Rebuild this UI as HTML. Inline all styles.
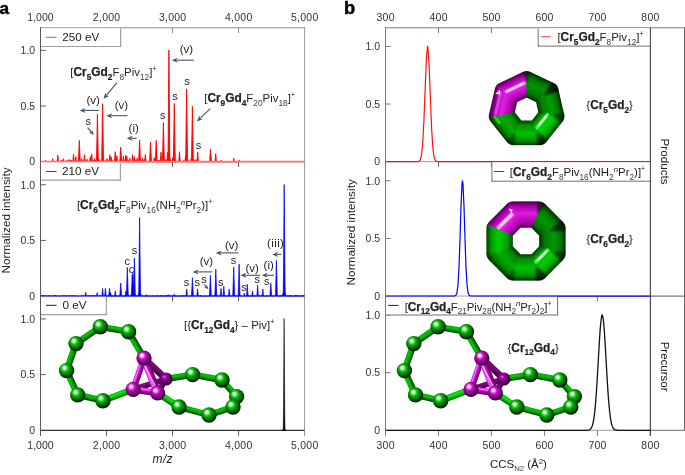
<!DOCTYPE html>
<html><head><meta charset="utf-8"><title>Figure</title>
<style>
html,body{margin:0;padding:0;background:#fff;}
body{width:685px;height:475px;overflow:hidden;font-family:"Liberation Sans", sans-serif;}
svg{display:block;will-change:transform;opacity:0.999;}
</style></head><body>
<svg width="685" height="475" viewBox="0 0 685 475" font-family='"Liberation Sans", sans-serif'>
<defs>
<radialGradient id="sg" cx="0.45" cy="0.42" r="0.62" fx="0.34" fy="0.30">
<stop offset="0" stop-color="#ffffff"/><stop offset="0.10" stop-color="#f0fff0"/><stop offset="0.20" stop-color="#98f098"/><stop offset="0.32" stop-color="#28c828"/><stop offset="0.48" stop-color="#009e00"/><stop offset="0.68" stop-color="#006a00"/><stop offset="0.86" stop-color="#002c00"/><stop offset="1" stop-color="#000a00"/>
</radialGradient>
<radialGradient id="sm" cx="0.45" cy="0.42" r="0.62" fx="0.34" fy="0.30">
<stop offset="0" stop-color="#ffffff"/><stop offset="0.10" stop-color="#fff0ff"/><stop offset="0.20" stop-color="#f8a0f8"/><stop offset="0.32" stop-color="#d828d8"/><stop offset="0.48" stop-color="#ac00ac"/><stop offset="0.68" stop-color="#7c007c"/><stop offset="0.86" stop-color="#440044"/><stop offset="1" stop-color="#180018"/>
</radialGradient>
<linearGradient id="bg" x1="0" y1="0" x2="0" y2="1">
<stop offset="0" stop-color="#00a000"/><stop offset="0.3" stop-color="#00c800"/><stop offset="0.55" stop-color="#00a000"/><stop offset="0.8" stop-color="#006400"/><stop offset="1" stop-color="#003400"/>
</linearGradient>
<linearGradient id="bm" x1="0" y1="0" x2="0" y2="1">
<stop offset="0" stop-color="#c010c0"/><stop offset="0.25" stop-color="#ff70ff"/><stop offset="0.5" stop-color="#c800c8"/><stop offset="0.8" stop-color="#880088"/><stop offset="1" stop-color="#480048"/>
</linearGradient>
<linearGradient id="bd" x1="0" y1="0" x2="0" y2="1">
<stop offset="0" stop-color="#6c006c"/><stop offset="0.3" stop-color="#8a008a"/><stop offset="0.6" stop-color="#5c005c"/><stop offset="1" stop-color="#2c002c"/>
</linearGradient>
<linearGradient id="bl" x1="0" y1="0" x2="0" y2="1">
<stop offset="0" stop-color="#00b400"/><stop offset="0.3" stop-color="#10e810"/><stop offset="0.6" stop-color="#00c000"/><stop offset="0.85" stop-color="#008000"/><stop offset="1" stop-color="#004800"/>
</linearGradient>
<radialGradient id="sd" cx="0.45" cy="0.42" r="0.62" fx="0.36" fy="0.32">
<stop offset="0" stop-color="#e080e0"/><stop offset="0.2" stop-color="#a810a8"/><stop offset="0.5" stop-color="#7c007c"/><stop offset="0.8" stop-color="#480048"/><stop offset="1" stop-color="#200020"/>
</radialGradient>
<filter id="blur1" x="-30%" y="-30%" width="160%" height="160%"><feGaussianBlur stdDeviation="1.1"/></filter>
<filter id="blur05" x="-30%" y="-30%" width="160%" height="160%"><feGaussianBlur stdDeviation="0.6"/></filter>
</defs>
<rect x="0" y="0" width="685" height="475" fill="#fff"/>
<text x="-0.60" y="14.00" font-size="17.2" text-anchor="start" font-weight="bold" font-style="normal" fill="#000" stroke="#000" stroke-width="0.45">a</text>
<text x="344.00" y="13.80" font-size="18.3" text-anchor="start" font-weight="bold" font-style="normal" fill="#000" stroke="#000" stroke-width="0.45">b</text>
<g transform="translate(0,0)">
<rect x="0" y="-3.20" width="26.96" height="6.40" fill="url(#bg)" transform="translate(166.00,379.00) rotate(-9.39)"/>
<rect x="0" y="-2.80" width="34.38" height="5.60" fill="url(#bd)" transform="translate(133.20,389.30) rotate(-17.43)"/>
<rect x="0" y="-3.30" width="30.28" height="6.60" fill="url(#bd)" transform="translate(144.00,358.20) rotate(43.39)"/>
<rect x="0" y="-2.80" width="16.33" height="5.60" fill="url(#bd)" transform="translate(157.60,393.00) rotate(-59.04)"/>
<circle cx="166.00" cy="379.00" r="6.6" fill="url(#sd)"/>
<rect x="0" y="-3.20" width="30.65" height="6.40" fill="url(#bg)" transform="translate(144.00,358.20) rotate(-120.16)"/>
<rect x="0" y="-3.20" width="28.72" height="6.40" fill="url(#bg)" transform="translate(100.30,326.80) rotate(9.82)"/>
<rect x="0" y="-3.20" width="29.54" height="6.40" fill="url(#bg)" transform="translate(76.00,343.60) rotate(-34.66)"/>
<rect x="0" y="-3.20" width="28.59" height="6.40" fill="url(#bg)" transform="translate(66.60,370.60) rotate(-70.80)"/>
<rect x="0" y="-3.20" width="26.72" height="6.40" fill="url(#bg)" transform="translate(77.70,394.90) rotate(-114.55)"/>
<rect x="0" y="-3.20" width="25.86" height="6.40" fill="url(#bg)" transform="translate(77.70,394.90) rotate(12.96)"/>
<rect x="0" y="-3.20" width="32.37" height="6.40" fill="url(#bl)" transform="translate(102.90,400.70) rotate(-20.62)"/>
<rect x="0" y="-3.20" width="29.89" height="6.40" fill="url(#bg)" transform="translate(192.60,374.60) rotate(10.41)"/>
<rect x="0" y="-3.20" width="22.11" height="6.40" fill="url(#bg)" transform="translate(222.00,380.00) rotate(48.67)"/>
<rect x="0" y="-3.20" width="11.01" height="6.40" fill="url(#bg)" transform="translate(233.00,407.00) rotate(-70.91)"/>
<rect x="0" y="-3.20" width="25.30" height="6.40" fill="url(#bg)" transform="translate(209.00,415.00) rotate(-18.43)"/>
<rect x="0" y="-3.20" width="31.05" height="6.40" fill="url(#bg)" transform="translate(179.00,407.00) rotate(14.93)"/>
<rect x="0" y="-3.20" width="25.57" height="6.40" fill="url(#bl)" transform="translate(157.60,393.00) rotate(33.19)"/>
<rect x="0" y="-3.40" width="24.68" height="6.80" fill="url(#bm)" transform="translate(133.20,389.30) rotate(8.62)"/>
<rect x="0" y="-3.10" width="32.92" height="6.20" fill="url(#bm)" transform="translate(133.20,389.30) rotate(-70.85)"/>
<rect x="0" y="-3.80" width="37.36" height="7.60" fill="url(#bm)" transform="translate(157.60,393.00) rotate(-111.35)"/>
<line x1="144.20" y1="364.20" x2="155.20" y2="386.00" stroke="#fff" stroke-opacity="0.75" stroke-width="1.1" filter="url(#blur05)"/>
<circle cx="192.60" cy="374.60" r="7.7" fill="url(#sg)"/>
<circle cx="222.00" cy="380.00" r="7.7" fill="url(#sg)"/>
<circle cx="236.60" cy="396.60" r="7.7" fill="url(#sg)"/>
<circle cx="233.00" cy="407.00" r="7.7" fill="url(#sg)"/>
<circle cx="209.00" cy="415.00" r="7.7" fill="url(#sg)"/>
<circle cx="179.00" cy="407.00" r="7.7" fill="url(#sg)"/>
<circle cx="100.30" cy="326.80" r="7.7" fill="url(#sg)"/>
<circle cx="128.60" cy="331.70" r="7.7" fill="url(#sg)"/>
<circle cx="76.00" cy="343.60" r="7.7" fill="url(#sg)"/>
<circle cx="66.60" cy="370.60" r="7.7" fill="url(#sg)"/>
<circle cx="77.70" cy="394.90" r="7.7" fill="url(#sg)"/>
<circle cx="102.90" cy="400.70" r="7.7" fill="url(#sg)"/>
<circle cx="144.00" cy="358.20" r="7.6" fill="url(#sm)"/>
<circle cx="133.20" cy="389.30" r="7.6" fill="url(#sm)"/>
<circle cx="157.60" cy="393.00" r="7.6" fill="url(#sm)"/>
</g>
<g transform="translate(337.8,0)">
<rect x="0" y="-3.20" width="26.96" height="6.40" fill="url(#bg)" transform="translate(166.00,379.00) rotate(-9.39)"/>
<rect x="0" y="-2.80" width="34.38" height="5.60" fill="url(#bd)" transform="translate(133.20,389.30) rotate(-17.43)"/>
<rect x="0" y="-3.30" width="30.28" height="6.60" fill="url(#bd)" transform="translate(144.00,358.20) rotate(43.39)"/>
<rect x="0" y="-2.80" width="16.33" height="5.60" fill="url(#bd)" transform="translate(157.60,393.00) rotate(-59.04)"/>
<circle cx="166.00" cy="379.00" r="6.6" fill="url(#sd)"/>
<rect x="0" y="-3.20" width="30.65" height="6.40" fill="url(#bg)" transform="translate(144.00,358.20) rotate(-120.16)"/>
<rect x="0" y="-3.20" width="28.72" height="6.40" fill="url(#bg)" transform="translate(100.30,326.80) rotate(9.82)"/>
<rect x="0" y="-3.20" width="29.54" height="6.40" fill="url(#bg)" transform="translate(76.00,343.60) rotate(-34.66)"/>
<rect x="0" y="-3.20" width="28.59" height="6.40" fill="url(#bg)" transform="translate(66.60,370.60) rotate(-70.80)"/>
<rect x="0" y="-3.20" width="26.72" height="6.40" fill="url(#bg)" transform="translate(77.70,394.90) rotate(-114.55)"/>
<rect x="0" y="-3.20" width="25.86" height="6.40" fill="url(#bg)" transform="translate(77.70,394.90) rotate(12.96)"/>
<rect x="0" y="-3.20" width="32.37" height="6.40" fill="url(#bl)" transform="translate(102.90,400.70) rotate(-20.62)"/>
<rect x="0" y="-3.20" width="29.89" height="6.40" fill="url(#bg)" transform="translate(192.60,374.60) rotate(10.41)"/>
<rect x="0" y="-3.20" width="22.11" height="6.40" fill="url(#bg)" transform="translate(222.00,380.00) rotate(48.67)"/>
<rect x="0" y="-3.20" width="11.01" height="6.40" fill="url(#bg)" transform="translate(233.00,407.00) rotate(-70.91)"/>
<rect x="0" y="-3.20" width="25.30" height="6.40" fill="url(#bg)" transform="translate(209.00,415.00) rotate(-18.43)"/>
<rect x="0" y="-3.20" width="31.05" height="6.40" fill="url(#bg)" transform="translate(179.00,407.00) rotate(14.93)"/>
<rect x="0" y="-3.20" width="25.57" height="6.40" fill="url(#bl)" transform="translate(157.60,393.00) rotate(33.19)"/>
<rect x="0" y="-3.40" width="24.68" height="6.80" fill="url(#bm)" transform="translate(133.20,389.30) rotate(8.62)"/>
<rect x="0" y="-3.10" width="32.92" height="6.20" fill="url(#bm)" transform="translate(133.20,389.30) rotate(-70.85)"/>
<rect x="0" y="-3.80" width="37.36" height="7.60" fill="url(#bm)" transform="translate(157.60,393.00) rotate(-111.35)"/>
<line x1="144.20" y1="364.20" x2="155.20" y2="386.00" stroke="#fff" stroke-opacity="0.75" stroke-width="1.1" filter="url(#blur05)"/>
<circle cx="192.60" cy="374.60" r="7.7" fill="url(#sg)"/>
<circle cx="222.00" cy="380.00" r="7.7" fill="url(#sg)"/>
<circle cx="236.60" cy="396.60" r="7.7" fill="url(#sg)"/>
<circle cx="233.00" cy="407.00" r="7.7" fill="url(#sg)"/>
<circle cx="209.00" cy="415.00" r="7.7" fill="url(#sg)"/>
<circle cx="179.00" cy="407.00" r="7.7" fill="url(#sg)"/>
<circle cx="100.30" cy="326.80" r="7.7" fill="url(#sg)"/>
<circle cx="128.60" cy="331.70" r="7.7" fill="url(#sg)"/>
<circle cx="76.00" cy="343.60" r="7.7" fill="url(#sg)"/>
<circle cx="66.60" cy="370.60" r="7.7" fill="url(#sg)"/>
<circle cx="77.70" cy="394.90" r="7.7" fill="url(#sg)"/>
<circle cx="102.90" cy="400.70" r="7.7" fill="url(#sg)"/>
<circle cx="144.00" cy="358.20" r="7.6" fill="url(#sm)"/>
<circle cx="133.20" cy="389.30" r="7.6" fill="url(#sm)"/>
<circle cx="157.60" cy="393.00" r="7.6" fill="url(#sm)"/>
</g>
<g>
<mask id="mkh"><rect x="0" y="0" width="685" height="475" fill="#000"/><polygon points="526.60,79.50 503.07,90.83 497.25,116.30 513.54,136.72 539.66,136.72 555.95,116.30 550.13,90.83" fill="#fff" stroke="#fff" stroke-width="17.12" stroke-linejoin="round"/><polygon points="526.60,98.20 517.69,102.49 515.49,112.14 521.65,119.87 531.55,119.87 537.71,112.14 535.51,102.49" fill="#000" stroke="#000" stroke-width="1.2" stroke-linejoin="round"/></mask>
<g mask="url(#mkh)">
<linearGradient id="rgh_0" gradientUnits="userSpaceOnUse" x1="511.12" y1="77.45" x2="522.14" y2="100.35"><stop offset="0" stop-color="#4a004a"/><stop offset="0.2" stop-color="#b900b9"/><stop offset="0.45" stop-color="#ef20ef"/><stop offset="0.78" stop-color="#b900b9"/><stop offset="1" stop-color="#420042"/></linearGradient>
<polygon points="526.60,70.00 495.64,84.91 517.69,102.49 526.60,98.20" fill="url(#rgh_0)" stroke="url(#rgh_0)" stroke-width="0.6"/>
<linearGradient id="rgh_1" gradientUnits="userSpaceOnUse" x1="491.82" y1="101.66" x2="516.59" y2="107.31"><stop offset="0" stop-color="#460046"/><stop offset="0.2" stop-color="#b000b0"/><stop offset="0.45" stop-color="#e41ee4"/><stop offset="0.78" stop-color="#b000b0"/><stop offset="1" stop-color="#3f003f"/></linearGradient>
<polygon points="495.64,84.91 487.99,118.41 515.49,112.14 517.69,102.49" fill="url(#rgh_1)" stroke="url(#rgh_1)" stroke-width="0.6"/>
<linearGradient id="rgh_2" gradientUnits="userSpaceOnUse" x1="498.71" y1="131.85" x2="518.57" y2="116.00"><stop offset="0" stop-color="#003000"/><stop offset="0.2" stop-color="#008600"/><stop offset="0.45" stop-color="#00ad00"/><stop offset="0.78" stop-color="#008600"/><stop offset="1" stop-color="#002b00"/></linearGradient>
<polygon points="487.99,118.41 509.42,145.28 521.65,119.87 515.49,112.14" fill="url(#rgh_2)" stroke="url(#rgh_2)" stroke-width="0.6"/>
<linearGradient id="rgh_3" gradientUnits="userSpaceOnUse" x1="526.60" y1="145.28" x2="526.60" y2="119.87"><stop offset="0" stop-color="#003500"/><stop offset="0.2" stop-color="#009500"/><stop offset="0.45" stop-color="#00c000"/><stop offset="0.78" stop-color="#009500"/><stop offset="1" stop-color="#003000"/></linearGradient>
<polygon points="509.42,145.28 543.78,145.28 531.55,119.87 521.65,119.87" fill="url(#rgh_3)" stroke="url(#rgh_3)" stroke-width="0.6"/>
<linearGradient id="rgh_4" gradientUnits="userSpaceOnUse" x1="554.49" y1="131.85" x2="534.63" y2="116.00"><stop offset="0" stop-color="#003a00"/><stop offset="0.2" stop-color="#00a400"/><stop offset="0.45" stop-color="#00d300"/><stop offset="0.78" stop-color="#00a400"/><stop offset="1" stop-color="#003400"/></linearGradient>
<polygon points="543.78,145.28 565.21,118.41 537.71,112.14 531.55,119.87" fill="url(#rgh_4)" stroke="url(#rgh_4)" stroke-width="0.6"/>
<linearGradient id="rgh_5" gradientUnits="userSpaceOnUse" x1="561.38" y1="101.66" x2="536.61" y2="107.31"><stop offset="0" stop-color="#002c00"/><stop offset="0.2" stop-color="#007c00"/><stop offset="0.45" stop-color="#00a000"/><stop offset="0.78" stop-color="#007c00"/><stop offset="1" stop-color="#002800"/></linearGradient>
<polygon points="565.21,118.41 557.56,84.91 535.51,102.49 537.71,112.14" fill="url(#rgh_5)" stroke="url(#rgh_5)" stroke-width="0.6"/>
<linearGradient id="rgh_6" gradientUnits="userSpaceOnUse" x1="542.08" y1="77.45" x2="531.06" y2="100.35"><stop offset="0" stop-color="#002a00"/><stop offset="0.2" stop-color="#007500"/><stop offset="0.45" stop-color="#009600"/><stop offset="0.78" stop-color="#007500"/><stop offset="1" stop-color="#002500"/></linearGradient>
<polygon points="557.56,84.91 526.60,70.00 526.60,98.20 535.51,102.49" fill="url(#rgh_6)" stroke="url(#rgh_6)" stroke-width="0.6"/>
<polygon points="522.10,70.00 531.10,70.00 526.60,84.10" fill="#000" fill-opacity="0.5" filter="url(#blur1)"/>
<polygon points="553.20,79.44 561.92,90.38 543.89,95.81" fill="#000" fill-opacity="0.7" filter="url(#blur1)"/>
<polygon points="566.54,112.56 563.87,124.26 551.46,115.27" fill="#000" fill-opacity="0.55" filter="url(#blur1)"/>
<polygon points="550.09,142.24 537.48,148.32 537.05,131.30" fill="#000" fill-opacity="0.7" filter="url(#blur1)"/>
<polygon points="514.82,147.88 504.01,142.68 515.54,132.57" fill="#000" fill-opacity="0.45" filter="url(#blur1)"/>
<polygon points="488.88,122.31 487.10,114.51 498.99,115.90" fill="#000" fill-opacity="0.2" filter="url(#blur1)"/>
<line x1="524.00" y1="83.10" x2="506.64" y2="91.46" stroke="#ffb0ff" stroke-opacity="0.85" stroke-width="3.4" stroke-linecap="round" filter="url(#blur05)"/>
<line x1="522.26" y1="83.93" x2="508.15" y2="90.73" stroke="#ffffff" stroke-opacity="0.85" stroke-width="1.3" stroke-linecap="round" filter="url(#blur05)"/>
<line x1="500.40" y1="92.61" x2="495.62" y2="113.54" stroke="#f468f4" stroke-opacity="0.6" stroke-width="3.0" stroke-linecap="round" filter="url(#blur05)"/>
<line x1="537.12" y1="127.56" x2="547.26" y2="114.83" stroke="#48ff48" stroke-opacity="0.95" stroke-width="3.8" stroke-linecap="round" filter="url(#blur05)"/>
<line x1="538.87" y1="125.36" x2="546.21" y2="116.15" stroke="#ffffff" stroke-opacity="0.95" stroke-width="1.7" stroke-linecap="round" filter="url(#blur05)"/>
<line x1="494.87" y1="116.84" x2="499.27" y2="122.36" stroke="#40e040" stroke-opacity="0.7" stroke-width="3.0" stroke-linecap="round" filter="url(#blur05)"/>
</g></g>
<polygon points="495.2,94.0 499.8,89.6 500.4,94.6" fill="#fff" fill-opacity="0.9" filter="url(#blur05)"/>
<g>
<mask id="mko"><rect x="0" y="0" width="685" height="475" fill="#000"/><polygon points="513.18,210.05 495.05,228.18 495.05,253.82 513.18,271.95 538.82,271.95 556.95,253.82 556.95,228.18 538.82,210.05" fill="#fff" stroke="#fff" stroke-width="17.55" stroke-linejoin="round"/><polygon points="520.80,228.44 513.44,235.80 513.44,246.20 520.80,253.56 531.20,253.56 538.56,246.20 538.56,235.80 531.20,228.44" fill="#000" stroke="#000" stroke-width="1.2" stroke-linejoin="round"/></mask>
<g mask="url(#mko)">
<linearGradient id="rgo_0" gradientUnits="userSpaceOnUse" x1="497.91" y1="212.91" x2="517.12" y2="232.12"><stop offset="0" stop-color="#4a004a"/><stop offset="0.2" stop-color="#b900b9"/><stop offset="0.45" stop-color="#ef20ef"/><stop offset="0.78" stop-color="#b900b9"/><stop offset="1" stop-color="#420042"/></linearGradient>
<polygon points="509.54,201.27 486.27,224.54 513.44,235.80 520.80,228.44" fill="url(#rgo_0)" stroke="url(#rgo_0)" stroke-width="0.6"/>
<linearGradient id="rgo_1" gradientUnits="userSpaceOnUse" x1="486.27" y1="241.00" x2="513.44" y2="241.00"><stop offset="0" stop-color="#003800"/><stop offset="0.2" stop-color="#009e00"/><stop offset="0.45" stop-color="#00cb00"/><stop offset="0.78" stop-color="#009e00"/><stop offset="1" stop-color="#003300"/></linearGradient>
<polygon points="486.27,224.54 486.27,257.46 513.44,246.20 513.44,235.80" fill="url(#rgo_1)" stroke="url(#rgo_1)" stroke-width="0.6"/>
<linearGradient id="rgo_2" gradientUnits="userSpaceOnUse" x1="497.91" y1="269.09" x2="517.12" y2="249.88"><stop offset="0" stop-color="#003000"/><stop offset="0.2" stop-color="#008600"/><stop offset="0.45" stop-color="#00ad00"/><stop offset="0.78" stop-color="#008600"/><stop offset="1" stop-color="#002b00"/></linearGradient>
<polygon points="486.27,257.46 509.54,280.73 520.80,253.56 513.44,246.20" fill="url(#rgo_2)" stroke="url(#rgo_2)" stroke-width="0.6"/>
<linearGradient id="rgo_3" gradientUnits="userSpaceOnUse" x1="526.00" y1="280.73" x2="526.00" y2="253.56"><stop offset="0" stop-color="#003400"/><stop offset="0.2" stop-color="#009200"/><stop offset="0.45" stop-color="#00bc00"/><stop offset="0.78" stop-color="#009200"/><stop offset="1" stop-color="#002f00"/></linearGradient>
<polygon points="509.54,280.73 542.46,280.73 531.20,253.56 520.80,253.56" fill="url(#rgo_3)" stroke="url(#rgo_3)" stroke-width="0.6"/>
<linearGradient id="rgo_4" gradientUnits="userSpaceOnUse" x1="554.09" y1="269.09" x2="534.88" y2="249.88"><stop offset="0" stop-color="#003900"/><stop offset="0.2" stop-color="#00a100"/><stop offset="0.45" stop-color="#00cf00"/><stop offset="0.78" stop-color="#00a100"/><stop offset="1" stop-color="#003300"/></linearGradient>
<polygon points="542.46,280.73 565.73,257.46 538.56,246.20 531.20,253.56" fill="url(#rgo_4)" stroke="url(#rgo_4)" stroke-width="0.6"/>
<linearGradient id="rgo_5" gradientUnits="userSpaceOnUse" x1="565.73" y1="241.00" x2="538.56" y2="241.00"><stop offset="0" stop-color="#002b00"/><stop offset="0.2" stop-color="#007800"/><stop offset="0.45" stop-color="#009a00"/><stop offset="0.78" stop-color="#007800"/><stop offset="1" stop-color="#002600"/></linearGradient>
<polygon points="565.73,257.46 565.73,224.54 538.56,235.80 538.56,246.20" fill="url(#rgo_5)" stroke="url(#rgo_5)" stroke-width="0.6"/>
<linearGradient id="rgo_6" gradientUnits="userSpaceOnUse" x1="554.09" y1="212.91" x2="534.88" y2="232.12"><stop offset="0" stop-color="#002a00"/><stop offset="0.2" stop-color="#007500"/><stop offset="0.45" stop-color="#009600"/><stop offset="0.78" stop-color="#007500"/><stop offset="1" stop-color="#002500"/></linearGradient>
<polygon points="565.73,224.54 542.46,201.27 531.20,228.44 538.56,235.80" fill="url(#rgo_6)" stroke="url(#rgo_6)" stroke-width="0.6"/>
<linearGradient id="rgo_7" gradientUnits="userSpaceOnUse" x1="526.00" y1="201.27" x2="526.00" y2="228.44"><stop offset="0" stop-color="#450045"/><stop offset="0.2" stop-color="#ac00ac"/><stop offset="0.45" stop-color="#df1ddf"/><stop offset="0.78" stop-color="#ac00ac"/><stop offset="1" stop-color="#3e003e"/></linearGradient>
<polygon points="542.46,201.27 509.54,201.27 520.80,228.44 531.20,228.44" fill="url(#rgo_7)" stroke="url(#rgo_7)" stroke-width="0.6"/>
<polygon points="537.84,199.36 547.07,203.19 536.83,214.85" fill="#000" fill-opacity="0.55" filter="url(#blur1)"/>
<polygon points="563.05,218.08 568.41,231.01 549.43,231.30" fill="#000" fill-opacity="0.65" filter="url(#blur1)"/>
<polygon points="568.02,251.91 563.43,263.00 552.15,251.83" fill="#000" fill-opacity="0.6" filter="url(#blur1)"/>
<polygon points="548.92,278.05 535.99,283.41 536.27,265.79" fill="#000" fill-opacity="0.7" filter="url(#blur1)"/>
<polygon points="514.16,282.64 504.93,278.81 514.61,268.50" fill="#000" fill-opacity="0.45" filter="url(#blur1)"/>
<polygon points="487.80,261.15 484.74,253.76 497.14,252.96" fill="#000" fill-opacity="0.25" filter="url(#blur1)"/>
<line x1="511.51" y1="214.67" x2="498.83" y2="227.35" stroke="#ffb0ff" stroke-opacity="0.85" stroke-width="4.2" stroke-linecap="round" filter="url(#blur05)"/>
<line x1="510.66" y1="215.52" x2="500.52" y2="225.66" stroke="#ffffff" stroke-opacity="0.9" stroke-width="1.6" stroke-linecap="round" filter="url(#blur05)"/>
<line x1="491.71" y1="229.64" x2="491.71" y2="253.78" stroke="#38e038" stroke-opacity="0.65" stroke-width="3.0" stroke-linecap="round" filter="url(#blur05)"/>
<line x1="536.31" y1="261.52" x2="547.42" y2="250.41" stroke="#48ff48" stroke-opacity="0.95" stroke-width="3.9" stroke-linecap="round" filter="url(#blur05)"/>
<line x1="537.84" y1="259.99" x2="546.27" y2="251.56" stroke="#ffffff" stroke-opacity="0.95" stroke-width="1.8" stroke-linecap="round" filter="url(#blur05)"/>
</g></g>
<polygon points="508.6,208.6 512.6,209.6 511.4,213.6" fill="#fff" fill-opacity="0.9" filter="url(#blur05)"/>
<line x1="40.50" y1="27.30" x2="40.50" y2="435.80" stroke="#5a5a5a" stroke-width="1.0" />
<line x1="40.00" y1="27.80" x2="305.10" y2="27.80" stroke="#8a8a8a" stroke-width="1.0" />
<line x1="304.60" y1="27.80" x2="304.60" y2="435.80" stroke="#9a9a9a" stroke-width="1.0" />
<line x1="40.50" y1="430.30" x2="40.50" y2="435.80" stroke="#5a5a5a" stroke-width="1.0" />
<text x="40.50" y="21.00" font-size="10.5" text-anchor="middle" font-weight="normal" font-style="normal" fill="#333" >1,000</text>
<text x="40.50" y="449.00" font-size="10.5" text-anchor="middle" font-weight="normal" font-style="normal" fill="#333" >1,000</text>
<line x1="106.53" y1="27.80" x2="106.53" y2="33.10" stroke="#8a8a8a" stroke-width="1.0" />
<line x1="106.53" y1="161.70" x2="106.53" y2="167.00" stroke="#5a5a5a" stroke-width="1.0" />
<line x1="106.53" y1="296.10" x2="106.53" y2="301.40" stroke="#5a5a5a" stroke-width="1.0" />
<line x1="106.53" y1="430.30" x2="106.53" y2="435.80" stroke="#5a5a5a" stroke-width="1.0" />
<text x="106.66" y="21.00" font-size="10.5" text-anchor="middle" font-weight="normal" font-style="normal" fill="#333" letter-spacing="0.26">2,000</text>
<text x="106.66" y="449.00" font-size="10.5" text-anchor="middle" font-weight="normal" font-style="normal" fill="#333" letter-spacing="0.26">2,000</text>
<line x1="172.55" y1="27.80" x2="172.55" y2="33.10" stroke="#8a8a8a" stroke-width="1.0" />
<line x1="172.55" y1="161.70" x2="172.55" y2="167.00" stroke="#5a5a5a" stroke-width="1.0" />
<line x1="172.55" y1="296.10" x2="172.55" y2="301.40" stroke="#5a5a5a" stroke-width="1.0" />
<line x1="172.55" y1="430.30" x2="172.55" y2="435.80" stroke="#5a5a5a" stroke-width="1.0" />
<text x="172.68" y="21.00" font-size="10.5" text-anchor="middle" font-weight="normal" font-style="normal" fill="#333" letter-spacing="0.26">3,000</text>
<text x="172.68" y="449.00" font-size="10.5" text-anchor="middle" font-weight="normal" font-style="normal" fill="#333" letter-spacing="0.26">3,000</text>
<line x1="238.58" y1="27.80" x2="238.58" y2="33.10" stroke="#8a8a8a" stroke-width="1.0" />
<line x1="238.58" y1="161.70" x2="238.58" y2="167.00" stroke="#5a5a5a" stroke-width="1.0" />
<line x1="238.58" y1="296.10" x2="238.58" y2="301.40" stroke="#5a5a5a" stroke-width="1.0" />
<line x1="238.58" y1="430.30" x2="238.58" y2="435.80" stroke="#5a5a5a" stroke-width="1.0" />
<text x="238.71" y="21.00" font-size="10.5" text-anchor="middle" font-weight="normal" font-style="normal" fill="#333" letter-spacing="0.26">4,000</text>
<text x="238.71" y="449.00" font-size="10.5" text-anchor="middle" font-weight="normal" font-style="normal" fill="#333" letter-spacing="0.26">4,000</text>
<line x1="304.60" y1="430.30" x2="304.60" y2="435.80" stroke="#9a9a9a" stroke-width="1.0" />
<text x="304.73" y="21.00" font-size="10.5" text-anchor="middle" font-weight="normal" font-style="normal" fill="#333" letter-spacing="0.26">5,000</text>
<text x="304.73" y="449.00" font-size="10.5" text-anchor="middle" font-weight="normal" font-style="normal" fill="#333" letter-spacing="0.26">5,000</text>
<text x="35.20" y="165.45" font-size="10.5" text-anchor="end" font-weight="normal" font-style="normal" fill="#333" >0</text>
<line x1="40.50" y1="106.02" x2="45.80" y2="106.02" stroke="#5a5a5a" stroke-width="1.0" />
<text x="35.20" y="109.77" font-size="10.5" text-anchor="end" font-weight="normal" font-style="normal" fill="#333" >0.5</text>
<line x1="40.50" y1="50.35" x2="45.80" y2="50.35" stroke="#5a5a5a" stroke-width="1.0" />
<text x="35.20" y="54.10" font-size="10.5" text-anchor="end" font-weight="normal" font-style="normal" fill="#333" >1.0</text>
<text x="35.20" y="299.85" font-size="10.5" text-anchor="end" font-weight="normal" font-style="normal" fill="#333" >0</text>
<line x1="40.50" y1="240.43" x2="45.80" y2="240.43" stroke="#5a5a5a" stroke-width="1.0" />
<text x="35.20" y="244.18" font-size="10.5" text-anchor="end" font-weight="normal" font-style="normal" fill="#333" >0.5</text>
<line x1="40.50" y1="184.75" x2="45.80" y2="184.75" stroke="#5a5a5a" stroke-width="1.0" />
<text x="35.20" y="188.50" font-size="10.5" text-anchor="end" font-weight="normal" font-style="normal" fill="#333" >1.0</text>
<text x="35.20" y="434.05" font-size="10.5" text-anchor="end" font-weight="normal" font-style="normal" fill="#333" >0</text>
<line x1="40.50" y1="374.62" x2="45.80" y2="374.62" stroke="#5a5a5a" stroke-width="1.0" />
<text x="35.20" y="378.38" font-size="10.5" text-anchor="end" font-weight="normal" font-style="normal" fill="#333" >0.5</text>
<line x1="40.50" y1="318.95" x2="45.80" y2="318.95" stroke="#5a5a5a" stroke-width="1.0" />
<text x="35.20" y="322.70" font-size="10.5" text-anchor="end" font-weight="normal" font-style="normal" fill="#333" >1.0</text>
<line x1="40.50" y1="430.30" x2="304.60" y2="430.30" stroke="#333" stroke-width="1.15" />
<line x1="40.50" y1="161.70" x2="304.60" y2="161.70" stroke="#8a8a8a" stroke-width="1.0" />
<line x1="40.50" y1="296.10" x2="304.60" y2="296.10" stroke="#8a8a8a" stroke-width="1.0" />
<polygon points="41.00,161.70 41.00,161.70 41.25,161.70 41.50,161.70 41.75,161.70 42.00,161.70 42.25,161.70 42.50,161.70 42.75,161.70 43.00,161.70 43.25,161.70 43.50,161.70 43.75,161.70 44.00,161.69 44.25,161.68 44.50,161.66 44.75,161.64 45.00,161.24 45.25,160.72 45.50,160.20 45.75,160.72 46.00,161.24 46.25,161.64 46.50,161.66 46.75,161.68 47.00,161.69 47.25,161.70 47.50,161.70 47.75,161.70 48.00,161.70 48.25,161.70 48.50,161.70 48.75,161.70 49.00,161.70 49.25,161.70 49.50,161.70 49.75,161.70 50.00,161.70 50.25,161.70 50.50,161.70 50.75,161.70 51.00,161.70 51.25,161.67 51.50,161.64 51.75,161.60 52.00,161.20 52.25,160.16 52.50,159.12 52.60,158.70 52.75,159.32 53.00,160.37 53.25,161.41 53.50,161.61 53.75,161.64 54.00,161.68 54.25,161.70 54.50,161.70 54.75,161.70 55.00,161.70 55.25,161.70 55.50,161.70 55.75,161.70 56.00,161.70 56.25,161.69 56.50,161.62 56.75,161.54 57.00,161.47 57.25,160.14 57.50,157.85 57.75,155.56 57.80,155.10 58.00,156.93 58.25,159.23 58.50,161.44 58.75,161.52 59.00,161.59 59.25,161.66 59.50,161.70 59.75,161.70 60.00,161.64 60.25,161.24 60.50,160.86 60.75,161.65 61.00,160.77 61.25,161.48 61.50,160.20 61.75,160.93 62.00,161.32 62.25,161.31 62.50,161.60 62.75,160.99 63.00,159.95 63.25,158.91 63.30,158.70 63.50,159.53 63.75,160.57 64.00,161.58 64.25,161.30 64.50,161.48 64.75,161.52 65.00,161.64 65.25,161.69 65.50,161.41 65.75,161.68 66.00,160.96 66.25,160.38 66.50,161.51 66.75,161.38 67.00,161.62 67.25,161.56 67.50,161.56 67.75,161.48 68.00,161.58 68.25,160.39 68.50,161.65 68.75,161.27 69.00,159.43 69.25,160.69 69.50,161.48 69.75,161.48 70.00,161.03 70.25,160.51 70.40,160.20 70.50,160.41 70.75,160.93 71.00,160.94 71.25,161.29 71.50,161.40 71.75,160.25 72.00,161.41 72.25,161.55 72.50,161.10 72.75,161.42 73.00,159.35 73.25,156.67 73.50,154.00 73.75,156.67 74.00,159.35 74.25,161.42 74.50,160.99 74.75,161.56 75.00,161.39 75.25,160.52 75.50,158.78 75.75,157.05 75.80,156.70 76.00,158.09 76.25,159.83 76.50,161.36 76.75,161.56 77.00,161.61 77.25,160.69 77.50,161.48 77.75,161.38 78.00,161.11 78.25,161.00 78.50,159.33 78.75,153.42 79.00,147.50 79.25,141.58 79.30,140.40 79.50,145.13 79.75,151.05 80.00,156.97 80.25,160.92 80.50,161.11 80.75,161.30 81.00,161.49 81.25,160.57 81.50,159.53 81.70,158.70 81.75,158.91 82.00,159.95 82.25,160.88 82.50,161.46 82.75,161.63 83.00,161.56 83.25,161.56 83.50,161.48 83.75,161.42 84.00,159.56 84.25,157.13 84.50,154.70 84.75,157.13 85.00,159.56 85.25,161.26 85.50,160.43 85.75,161.60 86.00,161.61 86.25,161.44 86.50,161.37 86.75,160.76 87.00,159.89 87.20,159.20 87.25,159.37 87.50,160.24 87.75,160.96 88.00,161.61 88.25,161.51 88.50,161.64 88.75,161.47 89.00,161.55 89.25,161.50 89.50,161.26 89.75,160.52 90.00,158.78 90.25,157.05 90.30,156.70 90.50,158.09 90.75,159.83 91.00,161.40 91.25,158.81 91.50,156.14 91.70,154.00 91.75,154.53 92.00,157.21 92.25,159.88 92.50,161.43 92.75,161.52 93.00,161.43 93.25,161.62 93.50,161.56 93.75,159.95 94.00,161.20 94.25,160.57 94.50,159.53 94.70,158.70 94.75,158.91 95.00,159.95 95.25,160.99 95.50,160.52 95.75,159.95 96.00,160.73 96.25,160.31 96.50,159.89 96.75,148.56 97.00,135.42 97.25,122.28 97.40,114.40 97.50,119.66 97.75,132.79 98.00,145.93 98.25,159.07 98.50,160.23 98.75,159.37 99.00,160.18 99.25,161.32 99.50,161.26 99.75,160.77 100.00,161.40 100.25,161.29 100.50,161.63 100.75,161.43 101.00,160.92 101.25,160.41 101.50,159.90 101.75,158.48 102.00,142.40 102.25,126.32 102.50,110.23 102.60,103.80 102.75,113.45 103.00,129.53 103.25,145.62 103.50,159.49 103.75,160.00 104.00,160.51 104.25,161.02 104.50,161.54 104.75,161.61 105.00,160.75 105.25,161.60 105.50,161.48 105.75,161.49 106.00,161.53 106.25,161.47 106.50,160.78 106.75,159.74 107.00,158.70 107.25,159.74 107.50,160.78 107.75,161.33 108.00,161.48 108.25,161.57 108.50,161.54 108.75,161.16 109.00,161.46 109.25,160.05 109.50,157.62 109.75,155.19 109.80,154.70 110.00,156.64 110.25,159.08 110.50,160.87 110.75,159.13 111.00,157.39 111.10,156.70 111.25,157.74 111.50,159.48 111.75,161.21 112.00,159.89 112.25,161.57 112.50,161.66 112.75,161.29 113.00,161.58 113.25,161.53 113.50,161.29 113.75,161.27 114.00,161.53 114.25,161.29 114.50,161.31 114.75,157.95 115.00,154.48 115.20,151.70 115.25,152.39 115.50,155.87 115.75,159.34 116.00,161.35 116.25,161.12 116.50,159.03 116.75,156.95 116.90,155.70 117.00,156.53 117.25,158.62 117.50,160.70 117.75,161.36 118.00,161.57 118.25,161.47 118.50,161.42 118.75,161.68 119.00,160.93 119.25,161.43 119.50,161.30 119.75,161.17 120.00,158.48 120.25,154.45 120.50,150.42 120.70,147.20 120.75,148.01 121.00,152.03 121.25,156.06 121.50,160.09 121.75,161.17 122.00,161.35 122.25,160.85 122.50,161.53 122.75,161.17 123.00,159.26 123.25,157.35 123.40,156.20 123.50,156.96 123.75,158.87 124.00,160.78 124.25,161.32 124.50,161.58 124.75,161.38 125.00,161.07 125.25,159.26 125.50,157.01 125.70,155.20 125.75,155.65 126.00,157.91 126.25,160.17 126.50,158.49 126.75,156.58 126.80,156.20 127.00,157.73 127.25,159.64 127.50,161.34 127.75,161.55 128.00,161.61 128.25,161.67 128.50,160.41 128.75,161.59 129.00,161.49 129.25,160.87 129.50,159.66 129.75,158.44 129.80,158.20 130.00,159.17 130.25,160.39 130.50,161.54 130.75,161.60 131.00,161.23 131.25,161.55 131.50,161.49 131.75,161.37 132.00,160.53 132.25,158.10 132.50,155.67 132.60,154.70 132.75,156.16 133.00,158.59 133.25,161.02 133.50,161.49 133.75,161.21 134.00,159.48 134.25,157.74 134.40,156.70 134.50,157.39 134.75,159.13 135.00,160.87 135.25,161.54 135.50,161.50 135.75,160.13 136.00,161.60 136.25,161.59 136.50,161.12 136.75,159.90 137.00,158.69 137.10,158.20 137.25,158.93 137.50,159.69 137.75,161.36 138.00,161.41 138.25,161.21 138.50,161.02 138.75,160.49 139.00,154.43 139.25,148.38 139.50,142.32 139.60,139.90 139.75,143.53 140.00,149.59 140.25,155.64 140.50,160.87 140.75,161.06 141.00,160.68 141.25,159.92 141.50,161.58 141.75,160.90 142.00,161.12 142.25,159.90 142.50,158.69 142.60,158.20 142.75,158.93 143.00,160.14 143.25,161.12 143.50,161.59 143.75,160.59 144.00,161.23 144.25,161.14 144.50,159.33 144.75,160.05 145.00,157.62 145.25,155.19 145.30,154.70 145.50,156.64 145.75,159.07 146.00,161.43 146.25,160.95 146.50,161.58 146.75,161.66 147.00,161.59 147.25,161.57 147.50,161.44 147.75,161.37 148.00,161.46 148.25,161.62 148.50,161.62 148.75,160.90 149.00,161.35 149.25,160.83 149.50,161.01 149.75,158.40 150.00,152.90 150.25,147.40 150.50,141.90 150.75,147.40 151.00,152.90 151.25,158.40 151.50,161.01 151.75,161.06 152.00,161.36 152.25,161.45 152.50,161.57 152.75,161.59 153.00,161.57 153.25,161.59 153.50,161.53 153.75,160.20 154.00,158.81 154.20,157.70 154.25,157.98 154.50,159.37 154.75,160.58 155.00,161.11 155.25,159.71 155.50,156.94 155.75,151.00 156.00,145.06 156.20,140.30 156.25,141.49 156.50,147.43 156.75,153.38 157.00,159.32 157.25,161.00 157.50,161.19 157.75,161.10 158.00,161.43 158.25,160.17 158.50,161.14 158.75,159.99 159.00,161.58 159.25,160.48 159.50,161.29 159.75,161.56 160.00,160.97 160.25,161.35 160.50,158.80 160.75,155.50 161.00,152.20 161.25,155.50 161.50,158.80 161.75,161.25 162.00,160.90 162.25,160.56 162.50,160.21 162.75,150.87 163.00,140.03 163.25,129.20 163.40,122.70 163.50,127.03 163.75,137.87 164.00,148.70 164.25,159.53 164.50,160.49 164.75,160.83 165.00,161.18 165.25,161.52 165.50,161.43 165.75,161.20 166.00,159.41 166.25,161.60 166.50,161.50 166.75,161.33 167.00,160.12 167.25,156.82 167.50,153.52 167.60,152.20 167.75,154.18 168.00,157.44 168.25,130.70 168.50,99.70 168.75,68.70 168.90,50.10 169.00,62.50 169.25,93.50 169.50,124.50 169.75,155.50 170.00,158.23 170.25,159.21 170.50,160.20 170.75,161.19 171.00,160.72 171.25,161.65 171.50,161.48 171.75,161.58 172.00,161.54 172.25,160.20 172.50,158.81 172.70,157.70 172.75,157.98 173.00,159.37 173.25,159.79 173.50,155.23 173.75,139.07 174.00,122.90 174.25,106.73 174.30,103.50 174.50,116.43 174.75,132.60 175.00,148.77 175.25,159.58 175.50,160.10 175.75,160.61 176.00,161.12 176.25,161.63 176.50,161.69 176.75,161.58 177.00,161.66 177.25,161.51 177.50,161.29 177.75,161.14 178.00,161.58 178.25,161.20 178.50,161.20 178.75,161.33 179.00,158.64 179.25,155.17 179.50,151.70 179.75,155.17 180.00,158.64 180.25,161.14 180.50,161.44 180.75,160.88 181.00,161.27 181.25,161.49 181.50,161.52 181.75,161.50 182.00,161.49 182.25,161.14 182.50,161.27 182.75,161.65 183.00,161.53 183.25,161.46 183.50,160.52 183.75,161.70 184.00,161.42 184.25,161.28 184.50,161.20 184.75,161.37 185.00,160.17 185.25,158.44 185.50,156.70 185.75,157.66 186.00,137.47 186.25,117.27 186.50,97.08 186.60,89.00 186.75,101.12 187.00,121.31 187.25,141.51 187.50,158.92 187.75,159.57 188.00,160.21 188.25,160.56 188.50,161.38 188.75,161.68 189.00,161.55 189.25,161.51 189.50,161.68 189.75,161.21 190.00,161.15 190.25,161.60 190.50,161.20 190.75,160.16 191.00,159.12 191.10,158.70 191.25,159.33 191.50,159.58 191.75,146.31 192.00,130.92 192.25,115.53 192.40,106.30 192.50,112.46 192.75,127.84 193.00,143.23 193.25,158.62 193.50,159.98 193.75,160.06 194.00,160.96 194.25,161.45 194.50,161.67 194.75,160.42 195.00,161.59 195.25,161.59 195.50,161.68 195.75,159.54 196.00,161.11 196.25,161.56 196.50,161.46 196.75,161.43 197.00,161.28 197.25,158.14 197.50,154.84 197.70,152.20 197.75,152.86 198.00,156.16 198.25,159.46 198.50,161.37 198.75,161.42 199.00,161.29 199.25,161.59 199.50,161.40 199.75,161.42 200.00,161.58 200.25,161.70 200.50,161.70 200.75,161.70 201.00,161.70 201.25,161.70 201.50,161.70 201.75,161.70 202.00,161.70 202.25,161.70 202.50,161.70 202.75,161.70 203.00,161.70 203.25,161.70 203.50,161.70 203.75,161.70 204.00,161.70 204.25,161.70 204.50,161.70 204.75,161.70 205.00,161.70 205.25,161.70 205.50,161.70 205.75,161.70 206.00,161.70 206.25,161.70 206.50,161.70 206.75,161.70 207.00,161.70 207.25,161.70 207.50,161.70 207.75,161.70 208.00,161.70 208.25,161.70 208.50,161.70 208.75,161.60 209.00,161.49 209.25,161.38 209.50,161.27 209.75,159.62 210.00,156.14 210.25,152.67 210.50,149.20 210.75,152.67 211.00,156.14 211.25,159.62 211.50,161.27 211.75,161.38 212.00,161.49 212.25,161.60 212.50,161.70 212.75,161.70 213.00,161.70 213.25,161.70 213.50,161.70 213.75,161.70 214.00,161.70 214.25,161.65 214.50,161.56 214.75,161.48 215.00,161.39 215.25,158.70 215.50,155.92 215.70,153.70 215.75,154.26 216.00,157.03 216.25,159.81 216.50,161.42 216.75,161.51 217.00,161.60 217.25,161.69 217.50,161.70 217.75,161.70 218.00,161.70 218.25,161.70 218.50,161.70 218.75,161.70 219.00,161.70 219.25,161.70 219.50,161.70 219.75,161.69 220.00,161.67 220.25,161.66 220.50,161.64 220.75,161.14 221.00,160.62 221.20,160.20 221.25,160.30 221.50,160.83 221.75,161.35 222.00,161.65 222.25,161.66 222.50,161.68 222.75,161.70 223.00,161.70 223.25,161.70 223.50,161.70 223.75,161.70 224.00,161.70 224.25,161.70 224.50,161.70 224.75,161.70 225.00,161.70 225.25,161.70 225.50,161.70 225.75,161.70 226.00,161.70 226.25,161.70 226.50,161.70 226.75,161.70 227.00,161.70 227.25,161.70 227.50,161.70 227.75,161.70 228.00,161.70 228.25,161.70 228.50,161.70 228.75,161.70 229.00,161.70 229.25,161.70 229.50,161.70 229.75,161.70 230.00,161.70 230.25,161.70 230.50,161.70 230.75,161.70 231.00,161.70 231.25,161.70 231.50,161.70 231.75,161.70 232.00,161.70 232.25,161.69 232.50,161.66 232.75,161.62 233.00,161.58 233.25,160.87 233.50,159.66 233.75,158.44 233.80,158.20 234.00,159.17 234.25,160.39 234.50,161.56 234.75,161.60 235.00,161.64 235.25,161.68 235.50,161.70 235.75,161.70 236.00,161.70 236.25,161.70 236.50,161.70 236.75,161.70 237.00,161.70 237.25,161.70 237.50,161.70 237.75,161.69 238.00,161.67 238.25,161.66 238.50,161.64 238.75,161.14 239.00,160.62 239.20,160.20 239.25,160.30 239.50,160.83 239.75,161.35 240.00,161.65 240.00,161.70" fill="#ff0000" stroke="#ff0000" stroke-width="0.9" stroke-linejoin="round"/>
<line x1="41.00" y1="161.55" x2="304.60" y2="161.55" stroke="#ff7474" stroke-width="1.7" />
<polygon points="41.00,296.10 41.00,295.74 41.25,295.91 41.50,295.27 41.75,295.61 42.00,296.08 42.25,296.08 42.50,295.98 42.75,295.54 43.00,296.06 43.25,295.99 43.50,295.92 43.75,295.72 44.00,296.07 44.25,295.48 44.50,295.98 44.75,296.07 45.00,296.00 45.25,296.08 45.50,296.01 45.75,295.59 46.00,296.07 46.25,295.97 46.50,296.03 46.75,296.10 47.00,295.98 47.25,296.10 47.50,295.91 47.75,295.99 48.00,296.04 48.25,295.14 48.50,295.95 48.75,295.99 49.00,295.95 49.25,296.01 49.50,296.03 49.75,296.03 50.00,296.07 50.25,295.99 50.50,296.08 50.75,296.02 51.00,295.50 51.25,295.96 51.50,295.94 51.75,296.07 52.00,295.89 52.25,296.03 52.50,295.75 52.75,295.96 53.00,296.02 53.25,295.97 53.50,295.88 53.75,295.91 54.00,295.88 54.25,295.36 54.50,296.10 54.75,295.74 55.00,296.07 55.25,296.04 55.50,295.28 55.75,295.95 56.00,295.92 56.25,296.08 56.50,295.91 56.75,295.56 57.00,296.08 57.25,296.08 57.50,296.06 57.75,295.99 58.00,296.01 58.25,295.99 58.50,296.01 58.75,296.04 59.00,296.04 59.25,296.07 59.50,296.08 59.75,295.95 60.00,295.82 60.25,296.01 60.50,296.01 60.75,296.04 61.00,296.05 61.25,296.04 61.50,296.03 61.75,296.03 62.00,296.04 62.25,295.97 62.50,295.02 62.75,296.08 63.00,296.01 63.25,295.95 63.50,295.99 63.75,296.02 64.00,295.96 64.25,296.09 64.50,295.28 64.75,295.97 65.00,295.57 65.25,295.99 65.50,296.02 65.75,296.07 66.00,296.00 66.25,296.09 66.50,295.91 66.75,296.04 67.00,295.64 67.25,296.05 67.50,295.89 67.75,296.06 68.00,296.05 68.25,295.97 68.50,296.06 68.75,295.85 69.00,296.02 69.25,295.43 69.50,296.05 69.75,296.08 70.00,296.05 70.25,295.85 70.50,295.87 70.75,296.07 71.00,296.04 71.25,296.03 71.50,295.97 71.75,296.04 72.00,295.39 72.25,296.01 72.50,295.52 72.75,296.00 73.00,296.05 73.25,296.09 73.50,295.93 73.75,295.85 74.00,296.03 74.25,295.41 74.50,295.52 74.75,296.00 75.00,295.96 75.25,295.99 75.50,295.92 75.75,295.91 76.00,295.94 76.25,296.07 76.50,295.81 76.75,295.99 77.00,296.07 77.25,296.09 77.50,295.98 77.75,296.09 78.00,295.91 78.25,296.09 78.50,296.00 78.75,295.93 79.00,296.06 79.25,296.09 79.50,295.97 79.75,296.08 80.00,295.96 80.25,295.85 80.50,296.08 80.75,296.08 81.00,295.99 81.25,295.93 81.50,295.42 81.75,296.07 82.00,295.99 82.25,295.86 82.50,296.05 82.75,295.74 83.00,295.83 83.25,296.09 83.50,295.93 83.75,296.02 84.00,295.64 84.25,295.97 84.50,295.72 84.75,295.77 85.00,295.97 85.25,295.23 85.50,293.94 85.75,292.66 85.80,292.40 86.00,293.43 86.25,294.71 86.50,295.96 86.75,296.00 87.00,295.92 87.25,296.07 87.50,295.88 87.75,296.02 88.00,295.47 88.25,295.97 88.50,296.00 88.75,295.51 89.00,295.92 89.25,296.05 89.50,296.09 89.75,295.72 90.00,296.05 90.25,295.90 90.50,295.97 90.75,296.06 91.00,296.00 91.25,296.06 91.50,296.09 91.75,295.35 92.00,295.92 92.25,296.09 92.50,296.05 92.75,296.07 93.00,296.04 93.25,296.06 93.50,295.33 93.75,295.99 94.00,295.99 94.25,296.09 94.50,295.07 94.75,295.96 95.00,296.05 95.25,295.86 95.50,295.95 95.75,296.07 96.00,296.04 96.25,295.54 96.50,295.96 96.75,294.79 97.00,293.57 97.20,292.60 97.25,292.84 97.50,294.06 97.75,295.27 98.00,295.88 98.25,295.92 98.50,295.91 98.75,295.99 99.00,295.91 99.25,296.01 99.50,295.93 99.75,295.59 100.00,296.02 100.25,296.10 100.50,295.76 100.75,295.91 101.00,296.02 101.25,295.36 101.50,295.94 101.75,295.85 102.00,294.83 102.25,292.19 102.50,289.56 102.60,288.50 102.75,290.08 103.00,292.72 103.25,295.36 103.50,295.87 103.75,295.95 104.00,295.72 104.25,295.91 104.50,295.86 104.75,295.34 105.00,292.63 105.25,289.93 105.40,288.30 105.50,289.38 105.75,292.09 106.00,294.80 106.25,295.85 106.50,295.93 106.75,295.87 107.00,296.02 107.25,296.10 107.50,296.02 107.75,295.76 108.00,296.07 108.25,295.98 108.50,295.67 108.75,295.17 109.00,293.72 109.25,291.01 109.50,288.30 109.75,291.01 110.00,293.72 110.25,294.30 110.50,293.09 110.60,292.60 110.75,293.33 111.00,294.54 111.25,295.76 111.50,295.99 111.75,296.03 112.00,296.07 112.25,295.92 112.50,295.60 112.75,296.06 113.00,295.95 113.25,296.05 113.50,296.08 113.75,296.06 114.00,296.02 114.25,295.82 114.50,295.88 114.75,294.92 115.00,293.18 115.25,291.45 115.30,291.10 115.50,292.49 115.75,294.23 116.00,295.54 116.25,295.94 116.50,295.91 116.75,295.97 117.00,296.01 117.25,296.07 117.50,295.95 117.75,295.94 118.00,295.99 118.25,295.98 118.50,296.06 118.75,295.69 119.00,295.91 119.25,295.86 119.50,295.74 119.75,295.63 120.00,293.21 120.25,289.60 120.50,285.99 120.70,283.10 120.75,283.82 121.00,287.43 121.25,291.04 121.50,294.66 121.75,295.67 122.00,295.77 122.25,295.90 122.50,295.76 122.75,295.86 123.00,295.99 123.25,296.04 123.50,295.95 123.75,296.03 124.00,295.48 124.25,296.06 124.50,296.06 124.75,296.00 125.00,295.95 125.25,295.61 125.50,293.88 125.75,292.14 125.90,291.10 126.00,291.79 126.25,293.53 126.50,292.90 126.75,284.90 127.00,276.90 127.25,268.90 127.30,267.30 127.50,273.70 127.75,281.70 128.00,289.70 128.25,295.05 128.50,295.31 128.75,295.56 129.00,295.81 129.25,295.91 129.50,296.02 129.75,295.98 130.00,296.06 130.25,295.82 130.50,295.89 130.75,295.71 131.00,295.36 131.25,295.34 131.50,291.43 131.75,285.60 132.00,279.77 132.20,275.10 132.25,276.27 132.50,282.10 132.75,276.93 132.90,273.10 133.00,275.66 133.25,282.04 133.50,288.43 133.75,285.54 134.00,274.99 134.25,264.43 134.40,258.10 134.50,262.32 134.75,272.88 135.00,283.43 135.25,293.99 135.50,294.92 135.75,295.25 136.00,295.20 136.25,295.93 136.50,296.04 136.75,295.82 137.00,295.67 137.25,295.91 137.50,295.93 137.75,295.74 138.00,295.04 138.25,294.35 138.50,293.65 138.75,291.73 139.00,269.90 139.25,248.07 139.50,226.23 139.60,217.50 139.75,230.60 140.00,252.43 140.25,274.27 140.50,293.10 140.75,293.79 141.00,294.49 141.25,295.18 141.50,295.71 141.75,295.99 142.00,296.03 142.25,295.58 142.50,296.04 142.75,295.98 143.00,296.07 143.25,295.99 143.50,296.03 143.75,295.71 144.00,296.01 144.25,296.05 144.50,296.04 144.75,295.84 145.00,295.81 145.25,296.06 145.50,296.05 145.75,295.75 146.00,295.23 146.25,294.70 146.30,294.60 146.50,295.02 146.75,295.54 147.00,295.95 147.25,295.97 147.50,296.07 147.75,295.94 148.00,296.07 148.25,295.49 148.50,296.09 148.75,296.09 149.00,295.84 149.25,296.10 149.50,296.06 149.75,295.90 150.00,295.99 150.25,295.97 150.50,296.00 150.75,295.78 151.00,296.06 151.25,295.91 151.50,295.96 151.75,296.02 152.00,296.06 152.25,296.02 152.50,295.99 152.75,295.46 153.00,295.31 153.25,295.71 153.50,295.99 153.75,296.05 154.00,295.75 154.25,296.01 154.50,296.06 154.75,296.01 155.00,295.96 155.25,295.90 155.50,296.02 155.75,296.04 156.00,295.92 156.25,296.01 156.50,295.97 156.75,295.89 157.00,295.38 157.25,295.96 157.50,295.91 157.75,296.00 158.00,295.98 158.25,296.01 158.50,295.78 158.75,295.83 159.00,295.63 159.25,296.07 159.50,296.01 159.75,296.00 160.00,296.08 160.25,296.08 160.50,295.89 160.75,295.53 161.00,296.03 161.25,295.66 161.50,295.59 161.75,296.10 162.00,295.76 162.25,296.03 162.50,296.06 162.75,295.94 163.00,296.05 163.25,296.06 163.50,295.55 163.75,295.63 164.00,296.09 164.25,296.01 164.50,295.95 164.75,296.03 165.00,296.02 165.25,296.05 165.50,295.90 165.75,296.03 166.00,295.58 166.25,295.89 166.50,295.39 166.75,296.02 167.00,296.07 167.25,296.02 167.50,295.12 167.75,296.08 168.00,296.04 168.25,296.03 168.50,295.39 168.75,295.12 169.00,294.60 169.25,295.12 169.50,295.64 169.75,296.04 170.00,295.98 170.25,296.08 170.50,295.92 170.75,295.86 171.00,296.10 171.25,295.99 171.50,295.75 171.75,295.58 172.00,296.07 172.25,296.05 172.50,296.08 172.75,296.04 173.00,295.38 173.25,295.92 173.50,296.02 173.75,295.35 174.00,294.66 174.20,294.10 174.25,294.24 174.50,294.93 174.75,295.63 175.00,296.03 175.25,296.05 175.50,295.93 175.75,296.02 176.00,295.96 176.25,295.75 176.50,295.93 176.75,296.00 177.00,296.02 177.25,296.06 177.50,295.96 177.75,295.65 178.00,295.99 178.25,295.95 178.50,296.01 178.75,295.88 179.00,296.04 179.25,296.05 179.50,296.02 179.75,296.08 180.00,296.03 180.25,295.93 180.50,296.05 180.75,296.04 181.00,295.47 181.25,295.96 181.50,296.04 181.75,296.02 182.00,296.02 182.25,296.03 182.50,295.66 182.75,295.54 183.00,295.86 183.25,295.75 183.50,295.50 183.75,295.77 184.00,295.67 184.25,295.56 184.50,295.99 184.75,296.10 185.00,296.06 185.25,296.06 185.50,295.35 185.75,295.90 186.00,295.83 186.25,293.47 186.50,291.04 186.70,289.10 186.75,289.59 187.00,292.02 187.25,294.45 187.50,295.86 187.75,295.93 188.00,295.96 188.25,295.99 188.50,296.01 188.75,295.96 189.00,296.08 189.25,296.05 189.50,296.09 189.75,296.03 190.00,295.76 190.25,296.06 190.50,295.78 190.75,295.89 191.00,295.45 191.25,295.56 191.50,295.40 191.75,291.02 192.00,285.93 192.25,280.85 192.40,277.80 192.50,279.83 192.75,284.92 193.00,290.00 193.25,295.08 193.50,295.53 193.75,295.43 194.00,295.85 194.25,295.59 194.50,296.08 194.75,296.04 195.00,296.00 195.25,295.97 195.50,296.03 195.75,295.93 196.00,295.85 196.25,295.93 196.50,295.92 196.75,295.84 197.00,293.96 197.25,291.53 197.50,289.10 197.75,291.53 198.00,293.96 198.25,295.84 198.50,295.92 198.75,296.00 199.00,296.07 199.25,296.03 199.50,295.96 199.75,295.63 200.00,296.08 200.25,296.06 200.50,296.02 200.75,295.11 201.00,295.73 201.25,296.04 201.50,296.00 201.75,295.99 202.00,295.93 202.25,296.07 202.50,295.96 202.75,296.04 203.00,296.01 203.25,295.90 203.50,296.07 203.75,295.76 204.00,295.96 204.25,296.05 204.50,296.00 204.75,295.92 205.00,295.90 205.25,296.09 205.50,296.07 205.75,296.06 206.00,295.98 206.25,295.90 206.50,296.03 206.75,296.04 207.00,296.09 207.25,295.97 207.50,296.03 207.75,295.99 208.00,296.04 208.25,296.05 208.50,296.04 208.75,295.49 209.00,295.58 209.25,295.49 209.50,295.31 209.75,290.35 210.00,284.60 210.25,278.85 210.40,275.40 210.50,277.70 210.75,283.45 211.00,289.20 211.25,294.95 211.50,295.46 211.75,295.64 212.00,295.82 212.25,295.97 212.50,296.08 212.75,296.07 213.00,295.57 213.25,296.05 213.50,296.07 213.75,296.00 214.00,295.93 214.25,295.69 214.50,295.46 214.75,295.22 215.00,293.12 215.25,285.68 215.50,278.23 215.75,270.79 215.80,269.30 216.00,275.26 216.25,282.70 216.50,290.14 216.75,295.12 217.00,295.36 217.25,295.60 217.50,295.83 217.75,295.90 218.00,295.98 218.25,296.06 218.50,296.06 218.75,296.03 219.00,295.42 219.25,296.07 219.50,296.05 219.75,295.99 220.00,295.90 220.25,295.82 220.50,293.75 220.75,291.07 221.00,288.40 221.25,291.07 221.50,293.75 221.75,295.82 222.00,295.90 222.25,295.97 222.50,295.98 222.75,295.57 223.00,295.76 223.25,293.81 223.50,290.44 223.75,287.07 223.80,286.40 224.00,289.09 224.25,292.46 224.50,295.72 224.75,295.83 225.00,295.94 225.25,295.98 225.50,296.05 225.75,296.04 226.00,295.54 226.25,296.04 226.50,296.09 226.75,295.98 227.00,295.71 227.25,295.97 227.50,295.97 227.75,295.83 228.00,295.98 228.25,295.81 228.50,295.83 228.75,293.47 229.00,291.04 229.20,289.10 229.25,289.59 229.50,292.02 229.75,294.45 230.00,295.86 230.25,295.93 230.50,296.01 230.75,295.99 231.00,295.96 231.25,296.00 231.50,295.91 231.75,296.07 232.00,295.81 232.25,295.56 232.50,295.30 232.75,295.05 233.00,289.68 233.25,281.65 233.50,273.62 233.70,267.20 233.75,268.81 234.00,276.83 234.25,284.86 234.50,292.89 234.75,295.15 235.00,295.41 235.25,295.66 235.50,295.71 235.75,296.06 236.00,296.04 236.25,295.70 236.50,296.08 236.75,296.10 237.00,296.07 237.25,295.95 237.50,295.67 237.75,295.39 238.00,295.11 238.25,294.33 238.50,285.47 238.75,276.61 239.00,267.74 239.10,264.20 239.25,269.52 239.50,278.38 239.75,287.24 240.00,294.88 240.25,295.16 240.50,295.45 240.75,295.73 241.00,296.01 241.25,296.03 241.50,296.08 241.75,295.89 242.00,296.09 242.25,296.04 242.50,296.08 242.75,296.06 243.00,296.05 243.25,296.03 243.50,296.00 243.75,295.39 244.00,294.35 244.25,293.31 244.30,293.10 244.50,293.93 244.75,294.97 245.00,295.45 245.25,295.98 245.50,295.91 245.75,295.98 246.00,295.95 246.25,295.82 246.50,295.69 246.75,293.31 247.00,289.22 247.25,285.12 247.30,284.30 247.50,287.58 247.75,291.67 248.00,295.36 248.25,295.26 248.50,295.90 248.75,296.01 249.00,296.04 249.25,296.05 249.50,295.90 249.75,296.06 250.00,296.05 250.25,296.07 250.50,296.08 250.75,295.22 251.00,296.08 251.25,296.03 251.50,295.96 251.75,295.92 252.00,294.57 252.25,292.84 252.50,291.10 252.75,292.84 253.00,294.57 253.25,295.92 253.50,295.97 253.75,295.77 254.00,295.91 254.25,295.82 254.50,296.02 254.75,296.00 255.00,295.58 255.25,296.03 255.50,295.73 255.75,296.04 256.00,295.84 256.25,295.99 256.50,295.85 256.75,295.74 257.00,294.27 257.25,290.45 257.50,286.63 257.60,285.10 257.75,287.39 258.00,291.21 258.25,295.03 258.50,295.77 258.75,295.89 259.00,296.01 259.25,295.98 259.50,295.39 259.75,295.96 260.00,295.89 260.25,295.89 260.50,296.00 260.75,295.52 261.00,296.07 261.25,296.02 261.50,295.67 261.75,295.86 262.00,295.86 262.25,294.45 262.50,292.02 262.75,289.59 262.80,289.10 263.00,291.04 263.25,293.47 263.50,295.83 263.75,295.90 264.00,295.96 264.25,295.94 264.50,296.07 264.75,296.09 265.00,296.05 265.25,295.98 265.50,296.03 265.75,296.01 266.00,295.94 266.25,296.00 266.50,295.35 266.75,295.96 267.00,295.59 267.25,295.93 267.50,296.04 267.75,296.06 268.00,295.64 268.25,295.83 268.50,295.89 268.75,295.92 269.00,296.00 269.25,295.90 269.50,295.75 269.75,295.67 270.00,294.66 270.25,291.04 270.50,287.43 270.75,283.82 270.80,283.10 271.00,285.99 271.25,289.60 271.50,293.21 271.75,295.63 272.00,295.74 272.25,295.86 272.50,295.97 272.75,296.02 273.00,296.07 273.25,296.01 273.50,296.04 273.75,296.07 274.00,295.69 274.25,295.67 274.50,296.00 274.75,295.68 275.00,295.37 275.25,295.06 275.50,294.74 275.75,286.21 276.00,276.32 276.25,266.43 276.40,260.50 276.50,264.46 276.75,274.34 277.00,284.23 277.25,294.12 277.50,294.99 277.75,295.31 278.00,295.62 278.25,295.94 278.50,295.97 278.75,295.99 279.00,295.99 279.25,295.98 279.50,296.03 279.75,295.94 280.00,296.06 280.25,294.90 280.50,296.05 280.75,296.07 281.00,296.03 281.25,295.68 281.50,296.07 281.75,295.98 282.00,295.57 282.25,295.98 282.50,295.00 282.75,294.01 283.00,293.02 283.25,292.04 283.50,271.30 283.75,240.30 284.00,209.30 284.20,184.50 284.25,190.70 284.50,221.70 284.75,252.70 285.00,283.70 285.25,292.43 285.50,293.42 285.75,294.40 286.00,295.39 286.25,295.98 286.50,295.99 286.75,296.04 287.00,295.82 287.25,295.57 287.50,296.07 287.75,295.91 288.00,296.06 288.25,296.07 288.50,295.60 288.75,296.03 289.00,296.01 289.25,296.05 289.50,295.37 289.75,295.90 290.00,296.02 290.25,295.93 290.50,296.02 290.75,295.91 291.00,296.01 291.25,295.03 291.50,295.68 291.75,296.00 292.00,296.01 292.25,296.04 292.50,296.08 292.75,295.92 293.00,295.80 293.25,295.95 293.50,296.08 293.75,296.01 294.00,296.06 294.25,296.08 294.50,295.69 294.75,295.81 295.00,296.07 295.25,295.26 295.50,296.08 295.75,296.09 296.00,295.97 296.25,295.30 296.50,295.88 296.75,296.01 297.00,295.80 297.25,295.46 297.50,296.06 297.75,296.08 298.00,295.73 298.25,296.04 298.50,295.63 298.75,296.02 299.00,296.04 299.25,295.79 299.50,295.64 299.75,295.89 300.00,295.78 300.25,295.77 300.50,296.06 300.75,296.07 301.00,295.77 301.25,296.02 301.50,295.72 301.75,296.10 302.00,296.04 302.25,296.05 302.50,295.26 302.75,296.10 303.00,295.92 303.25,296.09 303.50,296.01 303.75,295.44 304.00,296.00 304.25,296.02 304.25,296.10" fill="#0000ff" stroke="#0000ff" stroke-width="0.75" stroke-linejoin="round"/>
<line x1="41.00" y1="296.10" x2="304.60" y2="296.10" stroke="#2020e0" stroke-width="0.5" stroke-opacity="0.6"/>
<polygon points="282.00,430.30 282.00,430.30 282.25,430.30 282.50,430.20 282.75,429.69 283.00,429.18 283.25,428.67 283.50,407.94 283.75,370.67 284.00,333.41 284.10,318.50 284.25,340.86 284.50,378.13 284.75,415.39 285.00,428.78 285.25,429.28 285.50,429.79 285.75,430.30 286.00,430.30 286.25,430.30 286.25,430.30" fill="#000" stroke="#000" stroke-width="0.55" stroke-linejoin="round"/>
<rect x="41.00" y="28.30" width="79.60" height="18.20" fill="#fff" stroke="none"/>
<line x1="120.60" y1="28.30" x2="120.60" y2="47.00" stroke="#a0a0a0" stroke-width="1.2" />
<line x1="41.00" y1="46.50" x2="121.10" y2="46.50" stroke="#a0a0a0" stroke-width="1.2" />
<line x1="46.00" y1="37.30" x2="56.50" y2="37.30" stroke="#ff4040" stroke-width="1.0" />
<text x="62.30" y="40.50" font-size="11.7" text-anchor="start" font-weight="normal" font-style="normal" fill="#222" >250 eV</text>
<rect x="41.00" y="162.40" width="79.40" height="17.80" fill="#fff" stroke="none"/>
<line x1="120.40" y1="162.40" x2="120.40" y2="180.70" stroke="#a0a0a0" stroke-width="1.2" />
<line x1="41.00" y1="180.20" x2="120.90" y2="180.20" stroke="#a0a0a0" stroke-width="1.2" />
<line x1="46.00" y1="171.50" x2="56.50" y2="171.50" stroke="#3030ff" stroke-width="1.0" />
<text x="62.10" y="174.80" font-size="11.7" text-anchor="start" font-weight="normal" font-style="normal" fill="#222" >210 eV</text>
<rect x="41.00" y="296.80" width="65.30" height="17.90" fill="#fff" stroke="none"/>
<line x1="106.30" y1="296.80" x2="106.30" y2="315.20" stroke="#a0a0a0" stroke-width="1.2" />
<line x1="41.00" y1="314.70" x2="106.80" y2="314.70" stroke="#a0a0a0" stroke-width="1.2" />
<line x1="46.00" y1="305.30" x2="56.50" y2="305.30" stroke="#222" stroke-width="1.0" />
<text x="62.50" y="308.70" font-size="11.7" text-anchor="start" font-weight="normal" font-style="normal" fill="#222" >0 eV</text>
<line x1="40.50" y1="27.30" x2="40.50" y2="435.80" stroke="#5a5a5a" stroke-width="1.0" />
<text x="70.30" y="75.80" font-size="11.45" text-anchor="start" font-weight="normal" font-style="normal" fill="#222" >[<tspan font-weight="bold" font-size="11.9" stroke="#222" stroke-width="0.25">Cr</tspan><tspan font-size="8.3" dy="3.7" font-weight="bold" stroke="#222" stroke-width="0.2">5</tspan><tspan dy="-3.7" font-size="1">&#8203;</tspan><tspan font-weight="bold" font-size="11.9" stroke="#222" stroke-width="0.25">Gd</tspan><tspan font-size="8.3" dy="3.7" font-weight="bold" stroke="#222" stroke-width="0.2">2</tspan><tspan dy="-3.7" font-size="1">&#8203;</tspan>F<tspan font-size="8.3" dy="3.7" font-weight="normal" fill="#3c3c3c">8</tspan><tspan dy="-3.7" font-size="1">&#8203;</tspan>Piv<tspan font-size="8.3" dy="3.7" font-weight="normal" fill="#3c3c3c">12</tspan><tspan dy="-3.7" font-size="1">&#8203;</tspan>]<tspan font-size="6.8" dy="-5.0" font-style="normal">+</tspan><tspan dy="5.0" font-size="1">&#8203;</tspan></text>
<line x1="116.90" y1="82.70" x2="106.57" y2="95.11" stroke="#44546a" stroke-width="1.1" />
<path d="M103.50,98.80 L105.29,92.74 L106.28,95.46 L109.13,95.94 Z" fill="#44546a"/>
<text x="204.20" y="102.30" font-size="11.45" text-anchor="start" font-weight="normal" font-style="normal" fill="#222" >[<tspan font-weight="bold" font-size="11.9" stroke="#222" stroke-width="0.25">Cr</tspan><tspan font-size="8.3" dy="3.7" font-weight="bold" stroke="#222" stroke-width="0.2">9</tspan><tspan dy="-3.7" font-size="1">&#8203;</tspan><tspan font-weight="bold" font-size="11.9" stroke="#222" stroke-width="0.25">Gd</tspan><tspan font-size="8.3" dy="3.7" font-weight="bold" stroke="#222" stroke-width="0.2">4</tspan><tspan dy="-3.7" font-size="1">&#8203;</tspan>F<tspan font-size="8.3" dy="3.7" font-weight="normal" fill="#3c3c3c">20</tspan><tspan dy="-3.7" font-size="1">&#8203;</tspan>Piv<tspan font-size="8.3" dy="3.7" font-weight="normal" fill="#3c3c3c">18</tspan><tspan dy="-3.7" font-size="1">&#8203;</tspan>]<tspan font-size="6.8" dy="-5.0" font-style="normal">+</tspan><tspan dy="5.0" font-size="1">&#8203;</tspan></text>
<line x1="210.30" y1="108.60" x2="200.37" y2="118.08" stroke="#44546a" stroke-width="1.1" />
<path d="M196.90,121.40 L199.37,115.59 L200.05,118.40 L202.82,119.20 Z" fill="#44546a"/>
<text x="186.40" y="53.00" font-size="11.45" text-anchor="middle" font-weight="normal" font-style="normal" fill="#222" >(v)</text>
<line x1="193.80" y1="60.20" x2="176.70" y2="60.20" stroke="#44546a" stroke-width="1.1" />
<path d="M171.90,60.20 L177.70,57.70 L176.25,60.20 L177.70,62.70 Z" fill="#44546a"/>
<text x="93.10" y="104.00" font-size="11.45" text-anchor="middle" font-weight="normal" font-style="normal" fill="#222" >(v)</text>
<line x1="98.80" y1="110.40" x2="84.50" y2="110.40" stroke="#44546a" stroke-width="1.1" />
<path d="M79.70,110.40 L85.50,107.90 L84.05,110.40 L85.50,112.90 Z" fill="#44546a"/>
<text x="121.30" y="108.80" font-size="11.45" text-anchor="middle" font-weight="normal" font-style="normal" fill="#222" >(v)</text>
<line x1="127.50" y1="115.70" x2="111.10" y2="115.70" stroke="#44546a" stroke-width="1.1" />
<path d="M106.30,115.70 L112.10,113.20 L110.65,115.70 L112.10,118.20 Z" fill="#44546a"/>
<text x="133.70" y="132.00" font-size="11.45" text-anchor="middle" font-weight="normal" font-style="normal" fill="#222" >(i)</text>
<line x1="136.70" y1="138.30" x2="131.60" y2="138.30" stroke="#44546a" stroke-width="1.1" />
<path d="M126.80,138.30 L132.60,135.80 L131.15,138.30 L132.60,140.80 Z" fill="#44546a"/>
<text x="187.10" y="85.10" font-size="11.0" text-anchor="middle" font-weight="normal" font-style="normal" fill="#222" >s</text>
<text x="175.00" y="99.90" font-size="11.0" text-anchor="middle" font-weight="normal" font-style="normal" fill="#222" >s</text>
<text x="162.80" y="119.20" font-size="11.0" text-anchor="middle" font-weight="normal" font-style="normal" fill="#222" >s</text>
<text x="198.40" y="148.80" font-size="11.0" text-anchor="middle" font-weight="normal" font-style="normal" fill="#222" >s</text>
<text x="88.20" y="124.60" font-size="11.0" text-anchor="middle" font-weight="normal" font-style="normal" fill="#222" >s</text>
<line x1="87.60" y1="127.60" x2="91.21" y2="131.85" stroke="#44546a" stroke-width="1.1" />
<path d="M93.80,134.90 L88.89,132.51 L91.37,132.04 L92.24,129.66 Z" fill="#44546a"/>
<text x="76.90" y="209.30" font-size="11.45" text-anchor="start" font-weight="normal" font-style="normal" fill="#222" >[<tspan font-weight="bold" font-size="11.9" stroke="#222" stroke-width="0.25">Cr</tspan><tspan font-size="8.3" dy="3.7" font-weight="bold" stroke="#222" stroke-width="0.2">6</tspan><tspan dy="-3.7" font-size="1">&#8203;</tspan><tspan font-weight="bold" font-size="11.9" stroke="#222" stroke-width="0.25">Gd</tspan><tspan font-size="8.3" dy="3.7" font-weight="bold" stroke="#222" stroke-width="0.2">2</tspan><tspan dy="-3.7" font-size="1">&#8203;</tspan>F<tspan font-size="8.3" dy="3.7" font-weight="normal" fill="#3c3c3c">8</tspan><tspan dy="-3.7" font-size="1">&#8203;</tspan>Piv<tspan font-size="8.3" dy="3.7" font-weight="normal" fill="#3c3c3c">16</tspan><tspan dy="-3.7" font-size="1">&#8203;</tspan>(NH<tspan font-size="8.3" dy="3.7" font-weight="normal" fill="#3c3c3c">2</tspan><tspan dy="-3.7" font-size="1">&#8203;</tspan><tspan font-size="7.8" dy="-4.4" font-style="italic">n</tspan><tspan dy="4.4" font-size="1">&#8203;</tspan>Pr<tspan font-size="8.3" dy="3.7" font-weight="normal" fill="#3c3c3c">2</tspan><tspan dy="-3.7" font-size="1">&#8203;</tspan>)]<tspan font-size="6.8" dy="-5.0" font-style="normal">+</tspan><tspan dy="5.0" font-size="1">&#8203;</tspan></text>
<text x="134.60" y="254.10" font-size="11.0" text-anchor="middle" font-weight="normal" font-style="normal" fill="#222" >s</text>
<text x="186.50" y="285.60" font-size="11.0" text-anchor="middle" font-weight="normal" font-style="normal" fill="#222" >s</text>
<text x="197.30" y="286.30" font-size="11.0" text-anchor="middle" font-weight="normal" font-style="normal" fill="#222" >s</text>
<text x="204.10" y="282.60" font-size="11.0" text-anchor="middle" font-weight="normal" font-style="normal" fill="#222" >s</text>
<text x="220.70" y="286.30" font-size="11.0" text-anchor="middle" font-weight="normal" font-style="normal" fill="#222" >s</text>
<text x="233.50" y="264.00" font-size="11.0" text-anchor="middle" font-weight="normal" font-style="normal" fill="#222" >s</text>
<text x="243.90" y="291.10" font-size="11.0" text-anchor="middle" font-weight="normal" font-style="normal" fill="#222" >s</text>
<text x="257.30" y="282.90" font-size="11.0" text-anchor="middle" font-weight="normal" font-style="normal" fill="#222" >s</text>
<text x="266.80" y="285.30" font-size="11.0" text-anchor="middle" font-weight="normal" font-style="normal" fill="#222" >s</text>
<text x="127.30" y="264.60" font-size="11.0" text-anchor="middle" font-weight="normal" font-style="normal" fill="#222" >c</text>
<text x="131.40" y="272.60" font-size="11.0" text-anchor="middle" font-weight="normal" font-style="normal" fill="#222" >c</text>
<line x1="204.00" y1="284.40" x2="206.10" y2="286.69" stroke="#44546a" stroke-width="1.1" />
<path d="M208.40,289.20 L203.95,287.31 L206.17,286.77 L206.90,284.61 Z" fill="#44546a"/>
<text x="206.30" y="265.10" font-size="11.45" text-anchor="middle" font-weight="normal" font-style="normal" fill="#222" >(v)</text>
<line x1="212.10" y1="271.90" x2="197.40" y2="271.90" stroke="#44546a" stroke-width="1.1" />
<path d="M192.60,271.90 L198.40,269.40 L196.95,271.90 L198.40,274.40 Z" fill="#44546a"/>
<text x="231.60" y="249.00" font-size="11.45" text-anchor="middle" font-weight="normal" font-style="normal" fill="#222" >(v)</text>
<line x1="238.50" y1="252.90" x2="220.60" y2="252.90" stroke="#44546a" stroke-width="1.1" />
<path d="M215.80,252.90 L221.60,250.40 L220.15,252.90 L221.60,255.40 Z" fill="#44546a"/>
<text x="252.10" y="271.60" font-size="11.45" text-anchor="middle" font-weight="normal" font-style="normal" fill="#222" >(v)</text>
<line x1="260.00" y1="275.30" x2="245.30" y2="275.30" stroke="#44546a" stroke-width="1.1" />
<path d="M240.50,275.30 L246.30,272.80 L244.85,275.30 L246.30,277.80 Z" fill="#44546a"/>
<text x="268.70" y="268.50" font-size="11.45" text-anchor="middle" font-weight="normal" font-style="normal" fill="#222" >(i)</text>
<line x1="274.00" y1="275.30" x2="266.70" y2="275.30" stroke="#44546a" stroke-width="1.1" />
<path d="M261.90,275.30 L267.70,272.80 L266.25,275.30 L267.70,277.80 Z" fill="#44546a"/>
<text x="275.70" y="246.60" font-size="11.45" text-anchor="middle" font-weight="normal" font-style="normal" fill="#222" letter-spacing="0.4">(iii)</text>
<line x1="281.20" y1="254.40" x2="277.00" y2="254.40" stroke="#44546a" stroke-width="1.1" />
<path d="M272.20,254.40 L278.00,251.90 L276.55,254.40 L278.00,256.90 Z" fill="#44546a"/>
<text x="184.00" y="328.90" font-size="11.45" text-anchor="start" font-weight="normal" font-style="normal" fill="#222" >[{<tspan font-weight="bold" font-size="11.9" stroke="#222" stroke-width="0.25">Cr</tspan><tspan font-size="8.3" dy="3.7" font-weight="bold" stroke="#222" stroke-width="0.2">12</tspan><tspan dy="-3.7" font-size="1">&#8203;</tspan><tspan font-weight="bold" font-size="11.9" stroke="#222" stroke-width="0.25">Gd</tspan><tspan font-size="8.3" dy="3.7" font-weight="bold" stroke="#222" stroke-width="0.2">4</tspan><tspan dy="-3.7" font-size="1">&#8203;</tspan>} &#8211; Piv]<tspan font-size="6.8" dy="-5.0" font-style="normal">+</tspan><tspan dy="5.0" font-size="1">&#8203;</tspan></text>
<text x="0.00" y="0.00" font-size="11.8" text-anchor="middle" font-weight="normal" font-style="normal" fill="#222" transform="translate(10.2,220.5) rotate(-90)">Normalized intensity</text>
<text x="152.60" y="462.80" font-size="12.0" text-anchor="start" font-weight="normal" font-style="italic" fill="#222" letter-spacing="0.35">m/z</text>
<line x1="385.50" y1="27.30" x2="385.50" y2="435.80" stroke="#7a7a7a" stroke-width="1.0" />
<line x1="385.00" y1="27.80" x2="684.50" y2="27.80" stroke="#7a7a7a" stroke-width="1.0" />
<line x1="650.40" y1="27.80" x2="650.40" y2="435.80" stroke="#4a4a4a" stroke-width="1.0" />
<line x1="684.50" y1="27.30" x2="684.50" y2="430.80" stroke="#6a6a6a" stroke-width="1.0" />
<line x1="650.40" y1="430.30" x2="684.50" y2="430.30" stroke="#6a6a6a" stroke-width="1.0" />
<line x1="650.40" y1="296.10" x2="684.50" y2="296.10" stroke="#555" stroke-width="1.0" />
<line x1="385.50" y1="430.30" x2="385.50" y2="435.80" stroke="#7a7a7a" stroke-width="1.0" />
<text x="385.63" y="20.70" font-size="10.5" text-anchor="middle" font-weight="normal" font-style="normal" fill="#333" letter-spacing="0.26">300</text>
<text x="385.63" y="449.20" font-size="10.5" text-anchor="middle" font-weight="normal" font-style="normal" fill="#333" letter-spacing="0.26">300</text>
<line x1="438.48" y1="27.80" x2="438.48" y2="33.10" stroke="#7a7a7a" stroke-width="1.0" />
<line x1="438.48" y1="161.70" x2="438.48" y2="167.00" stroke="#7a7a7a" stroke-width="1.0" />
<line x1="438.48" y1="296.10" x2="438.48" y2="301.40" stroke="#7a7a7a" stroke-width="1.0" />
<line x1="438.48" y1="430.30" x2="438.48" y2="435.80" stroke="#7a7a7a" stroke-width="1.0" />
<text x="438.61" y="20.70" font-size="10.5" text-anchor="middle" font-weight="normal" font-style="normal" fill="#333" letter-spacing="0.26">400</text>
<text x="438.61" y="449.20" font-size="10.5" text-anchor="middle" font-weight="normal" font-style="normal" fill="#333" letter-spacing="0.26">400</text>
<line x1="491.46" y1="27.80" x2="491.46" y2="33.10" stroke="#7a7a7a" stroke-width="1.0" />
<line x1="491.46" y1="161.70" x2="491.46" y2="167.00" stroke="#7a7a7a" stroke-width="1.0" />
<line x1="491.46" y1="296.10" x2="491.46" y2="301.40" stroke="#7a7a7a" stroke-width="1.0" />
<line x1="491.46" y1="430.30" x2="491.46" y2="435.80" stroke="#7a7a7a" stroke-width="1.0" />
<text x="491.59" y="20.70" font-size="10.5" text-anchor="middle" font-weight="normal" font-style="normal" fill="#333" letter-spacing="0.26">500</text>
<text x="491.59" y="449.20" font-size="10.5" text-anchor="middle" font-weight="normal" font-style="normal" fill="#333" letter-spacing="0.26">500</text>
<line x1="544.44" y1="27.80" x2="544.44" y2="33.10" stroke="#7a7a7a" stroke-width="1.0" />
<line x1="544.44" y1="161.70" x2="544.44" y2="167.00" stroke="#7a7a7a" stroke-width="1.0" />
<line x1="544.44" y1="296.10" x2="544.44" y2="301.40" stroke="#7a7a7a" stroke-width="1.0" />
<line x1="544.44" y1="430.30" x2="544.44" y2="435.80" stroke="#7a7a7a" stroke-width="1.0" />
<text x="544.57" y="20.70" font-size="10.5" text-anchor="middle" font-weight="normal" font-style="normal" fill="#333" letter-spacing="0.26">600</text>
<text x="544.57" y="449.20" font-size="10.5" text-anchor="middle" font-weight="normal" font-style="normal" fill="#333" letter-spacing="0.26">600</text>
<line x1="597.42" y1="27.80" x2="597.42" y2="33.10" stroke="#7a7a7a" stroke-width="1.0" />
<line x1="597.42" y1="161.70" x2="597.42" y2="167.00" stroke="#7a7a7a" stroke-width="1.0" />
<line x1="597.42" y1="296.10" x2="597.42" y2="301.40" stroke="#7a7a7a" stroke-width="1.0" />
<line x1="597.42" y1="430.30" x2="597.42" y2="435.80" stroke="#7a7a7a" stroke-width="1.0" />
<text x="597.55" y="20.70" font-size="10.5" text-anchor="middle" font-weight="normal" font-style="normal" fill="#333" letter-spacing="0.26">700</text>
<text x="597.55" y="449.20" font-size="10.5" text-anchor="middle" font-weight="normal" font-style="normal" fill="#333" letter-spacing="0.26">700</text>
<line x1="650.40" y1="430.30" x2="650.40" y2="435.80" stroke="#4a4a4a" stroke-width="1.0" />
<text x="650.53" y="20.70" font-size="10.5" text-anchor="middle" font-weight="normal" font-style="normal" fill="#333" letter-spacing="0.26">800</text>
<text x="650.53" y="449.20" font-size="10.5" text-anchor="middle" font-weight="normal" font-style="normal" fill="#333" letter-spacing="0.26">800</text>
<text x="380.20" y="165.45" font-size="10.5" text-anchor="end" font-weight="normal" font-style="normal" fill="#333" >0</text>
<line x1="385.50" y1="104.05" x2="390.80" y2="104.05" stroke="#7a7a7a" stroke-width="1.0" />
<text x="380.20" y="107.80" font-size="10.5" text-anchor="end" font-weight="normal" font-style="normal" fill="#333" >0.5</text>
<line x1="385.50" y1="46.40" x2="390.80" y2="46.40" stroke="#7a7a7a" stroke-width="1.0" />
<text x="380.20" y="50.15" font-size="10.5" text-anchor="end" font-weight="normal" font-style="normal" fill="#333" >1.0</text>
<text x="380.20" y="299.85" font-size="10.5" text-anchor="end" font-weight="normal" font-style="normal" fill="#333" >0</text>
<line x1="385.50" y1="238.45" x2="390.80" y2="238.45" stroke="#7a7a7a" stroke-width="1.0" />
<text x="380.20" y="242.20" font-size="10.5" text-anchor="end" font-weight="normal" font-style="normal" fill="#333" >0.5</text>
<line x1="385.50" y1="180.80" x2="390.80" y2="180.80" stroke="#7a7a7a" stroke-width="1.0" />
<text x="380.20" y="184.55" font-size="10.5" text-anchor="end" font-weight="normal" font-style="normal" fill="#333" >1.0</text>
<text x="380.20" y="434.05" font-size="10.5" text-anchor="end" font-weight="normal" font-style="normal" fill="#333" >0</text>
<line x1="385.50" y1="372.65" x2="390.80" y2="372.65" stroke="#7a7a7a" stroke-width="1.0" />
<text x="380.20" y="376.40" font-size="10.5" text-anchor="end" font-weight="normal" font-style="normal" fill="#333" >0.5</text>
<line x1="385.50" y1="315.00" x2="390.80" y2="315.00" stroke="#7a7a7a" stroke-width="1.0" />
<text x="380.20" y="318.75" font-size="10.5" text-anchor="end" font-weight="normal" font-style="normal" fill="#333" >1.0</text>
<line x1="385.50" y1="161.70" x2="650.40" y2="161.70" stroke="#9a9a9a" stroke-width="1.0" />
<line x1="385.50" y1="296.10" x2="650.40" y2="296.10" stroke="#9a9a9a" stroke-width="1.0" />
<line x1="385.50" y1="430.30" x2="650.40" y2="430.30" stroke="#9a9a9a" stroke-width="1.0" />
<polyline points="386.00,161.70 414.85,161.70 416.15,161.70 417.45,161.66 418.75,161.42 420.05,160.26 421.35,155.98 422.65,144.18 423.95,120.31 425.25,86.29 426.55,55.77 427.60,46.40 427.85,46.95 429.15,65.85 430.45,99.96 431.75,131.03 433.05,149.95 434.35,158.23 435.65,160.91 436.95,161.56 438.25,161.68 439.55,161.70 650.40,161.70" fill="none" stroke="#ff1010" stroke-width="1.2" stroke-linejoin="round"/>
<polyline points="386.00,296.10 452.00,296.10 453.00,296.10 454.00,296.07 455.00,295.90 456.00,295.14 457.00,292.36 458.00,284.49 459.00,267.35 460.00,239.33 461.00,206.76 462.00,184.02 462.50,180.80 463.00,184.02 464.00,206.76 465.00,239.33 466.00,267.35 467.00,284.49 468.00,292.36 469.00,295.14 470.00,295.90 471.00,296.07 472.00,296.10 650.40,296.10" fill="none" stroke="#0000ff" stroke-width="1.2" stroke-linejoin="round"/>
<polyline points="386.00,430.30 582.70,430.30 583.50,430.30 584.30,430.30 585.10,430.29 585.90,430.28 586.70,430.26 587.50,430.21 588.30,430.10 589.10,429.89 589.90,429.50 590.70,428.81 591.50,427.63 592.30,425.70 593.10,422.72 593.90,418.32 594.70,412.15 595.50,403.94 596.30,393.58 597.10,381.27 597.90,367.52 598.70,353.22 599.50,339.57 600.30,327.90 601.10,319.50 601.90,315.34 602.20,315.00 602.70,315.94 603.50,321.23 604.30,330.56 605.10,342.85 605.90,356.78 606.70,371.04 607.50,384.51 608.30,396.37 609.10,406.19 609.90,413.88 610.70,419.58 611.50,423.59 612.30,426.27 613.10,427.98 613.90,429.02 614.70,429.62 615.50,429.96 616.30,430.13 617.10,430.22 617.90,430.27 618.70,430.29 619.50,430.29 620.30,430.30 621.10,430.30 650.40,430.30" fill="none" stroke="#111" stroke-width="1.3" stroke-linejoin="round"/>
<rect x="538.20" y="28.30" width="111.70" height="17.80" fill="#fff"/>
<line x1="538.20" y1="28.30" x2="538.20" y2="46.60" stroke="#707070" stroke-width="1.0" />
<line x1="537.70" y1="46.10" x2="650.40" y2="46.10" stroke="#707070" stroke-width="1.0" />
<line x1="540.80" y1="36.70" x2="550.90" y2="36.70" stroke="#ff4040" stroke-width="1.0" />
<text x="557.40" y="41.30" font-size="11.45" text-anchor="start" font-weight="normal" font-style="normal" fill="#222" >[<tspan font-weight="bold" font-size="11.9" stroke="#222" stroke-width="0.25">Cr</tspan><tspan font-size="8.3" dy="3.7" font-weight="bold" stroke="#222" stroke-width="0.2">5</tspan><tspan dy="-3.7" font-size="1">&#8203;</tspan><tspan font-weight="bold" font-size="11.9" stroke="#222" stroke-width="0.25">Gd</tspan><tspan font-size="8.3" dy="3.7" font-weight="bold" stroke="#222" stroke-width="0.2">2</tspan><tspan dy="-3.7" font-size="1">&#8203;</tspan>F<tspan font-size="8.3" dy="3.7" font-weight="normal" fill="#3c3c3c">8</tspan><tspan dy="-3.7" font-size="1">&#8203;</tspan>Piv<tspan font-size="8.3" dy="3.7" font-weight="normal" fill="#3c3c3c">12</tspan><tspan dy="-3.7" font-size="1">&#8203;</tspan>]<tspan font-size="6.8" dy="-5.0" font-style="normal">+</tspan><tspan dy="5.0" font-size="1">&#8203;</tspan></text>
<rect x="491.90" y="162.40" width="158.00" height="18.80" fill="#fff"/>
<line x1="491.90" y1="162.40" x2="491.90" y2="181.70" stroke="#707070" stroke-width="1.0" />
<line x1="491.40" y1="181.20" x2="650.40" y2="181.20" stroke="#707070" stroke-width="1.0" />
<line x1="493.90" y1="171.50" x2="504.30" y2="171.50" stroke="#3030ff" stroke-width="1.0" />
<text x="509.80" y="176.00" font-size="11.45" text-anchor="start" font-weight="normal" font-style="normal" fill="#222" >[<tspan font-weight="bold" font-size="11.9" stroke="#222" stroke-width="0.25">Cr</tspan><tspan font-size="8.3" dy="3.7" font-weight="bold" stroke="#222" stroke-width="0.2">6</tspan><tspan dy="-3.7" font-size="1">&#8203;</tspan><tspan font-weight="bold" font-size="11.9" stroke="#222" stroke-width="0.25">Gd</tspan><tspan font-size="8.3" dy="3.7" font-weight="bold" stroke="#222" stroke-width="0.2">2</tspan><tspan dy="-3.7" font-size="1">&#8203;</tspan>F<tspan font-size="8.3" dy="3.7" font-weight="normal" fill="#3c3c3c">8</tspan><tspan dy="-3.7" font-size="1">&#8203;</tspan>Piv<tspan font-size="8.3" dy="3.7" font-weight="normal" fill="#3c3c3c">16</tspan><tspan dy="-3.7" font-size="1">&#8203;</tspan>(NH<tspan font-size="8.3" dy="3.7" font-weight="normal" fill="#3c3c3c">2</tspan><tspan dy="-3.7" font-size="1">&#8203;</tspan><tspan font-size="7.8" dy="-4.4" font-style="italic">n</tspan><tspan dy="4.4" font-size="1">&#8203;</tspan>Pr<tspan font-size="8.3" dy="3.7" font-weight="normal" fill="#3c3c3c">2</tspan><tspan dy="-3.7" font-size="1">&#8203;</tspan>)]<tspan font-size="6.8" dy="-5.0" font-style="normal">+</tspan><tspan dy="5.0" font-size="1">&#8203;</tspan></text>
<rect x="386.00" y="296.80" width="171.60" height="18.20" fill="#fff"/>
<line x1="557.60" y1="296.80" x2="557.60" y2="315.50" stroke="#707070" stroke-width="1.0" />
<line x1="386.00" y1="315.00" x2="558.10" y2="315.00" stroke="#707070" stroke-width="1.0" />
<line x1="388.20" y1="305.40" x2="398.40" y2="305.40" stroke="#222" stroke-width="1.0" />
<text x="404.70" y="310.60" font-size="11.45" text-anchor="start" font-weight="normal" font-style="normal" fill="#222" letter-spacing="-0.09">[<tspan font-weight="bold" font-size="11.9" stroke="#222" stroke-width="0.25">Cr</tspan><tspan font-size="8.3" dy="3.7" font-weight="bold" stroke="#222" stroke-width="0.2">12</tspan><tspan dy="-3.7" font-size="1">&#8203;</tspan><tspan font-weight="bold" font-size="11.9" stroke="#222" stroke-width="0.25">Gd</tspan><tspan font-size="8.3" dy="3.7" font-weight="bold" stroke="#222" stroke-width="0.2">4</tspan><tspan dy="-3.7" font-size="1">&#8203;</tspan>F<tspan font-size="8.3" dy="3.7" font-weight="normal" fill="#3c3c3c">21</tspan><tspan dy="-3.7" font-size="1">&#8203;</tspan>Piv<tspan font-size="8.3" dy="3.7" font-weight="normal" fill="#3c3c3c">28</tspan><tspan dy="-3.7" font-size="1">&#8203;</tspan>(NH<tspan font-size="8.3" dy="3.7" font-weight="normal" fill="#3c3c3c">2</tspan><tspan dy="-3.7" font-size="1">&#8203;</tspan><tspan font-size="7.8" dy="-4.4" font-style="italic">n</tspan><tspan dy="4.4" font-size="1">&#8203;</tspan>Pr<tspan font-size="8.3" dy="3.7" font-weight="normal" fill="#3c3c3c">2</tspan><tspan dy="-3.7" font-size="1">&#8203;</tspan>)<tspan font-size="8.3" dy="3.7" font-weight="normal" fill="#3c3c3c">2</tspan><tspan dy="-3.7" font-size="1">&#8203;</tspan>]<tspan font-size="6.8" dy="-5.0" font-style="normal">+</tspan><tspan dy="5.0" font-size="1">&#8203;</tspan></text>
<line x1="385.50" y1="27.30" x2="385.50" y2="435.80" stroke="#7a7a7a" stroke-width="1.0" />
<line x1="650.40" y1="27.80" x2="650.40" y2="435.80" stroke="#4a4a4a" stroke-width="1.0" />
<text x="586.30" y="108.90" font-size="11.45" text-anchor="start" font-weight="normal" font-style="normal" fill="#222" >{<tspan font-weight="bold" font-size="11.9" stroke="#222" stroke-width="0.25">Cr</tspan><tspan font-size="8.3" dy="3.7" font-weight="bold" stroke="#222" stroke-width="0.2">5</tspan><tspan dy="-3.7" font-size="1">&#8203;</tspan><tspan font-weight="bold" font-size="11.9" stroke="#222" stroke-width="0.25">Gd</tspan><tspan font-size="8.3" dy="3.7" font-weight="bold" stroke="#222" stroke-width="0.2">2</tspan><tspan dy="-3.7" font-size="1">&#8203;</tspan>}</text>
<text x="586.30" y="243.10" font-size="11.45" text-anchor="start" font-weight="normal" font-style="normal" fill="#222" >{<tspan font-weight="bold" font-size="11.9" stroke="#222" stroke-width="0.25">Cr</tspan><tspan font-size="8.3" dy="3.7" font-weight="bold" stroke="#222" stroke-width="0.2">6</tspan><tspan dy="-3.7" font-size="1">&#8203;</tspan><tspan font-weight="bold" font-size="11.9" stroke="#222" stroke-width="0.25">Gd</tspan><tspan font-size="8.3" dy="3.7" font-weight="bold" stroke="#222" stroke-width="0.2">2</tspan><tspan dy="-3.7" font-size="1">&#8203;</tspan>}</text>
<text x="507.50" y="351.60" font-size="11.45" text-anchor="start" font-weight="normal" font-style="normal" fill="#222" >{<tspan font-weight="bold" font-size="11.9" stroke="#222" stroke-width="0.25">Cr</tspan><tspan font-size="8.3" dy="3.7" font-weight="bold" stroke="#222" stroke-width="0.2">12</tspan><tspan dy="-3.7" font-size="1">&#8203;</tspan><tspan font-weight="bold" font-size="11.9" stroke="#222" stroke-width="0.25">Gd</tspan><tspan font-size="8.3" dy="3.7" font-weight="bold" stroke="#222" stroke-width="0.2">4</tspan><tspan dy="-3.7" font-size="1">&#8203;</tspan>}</text>
<text x="0.00" y="0.00" font-size="11.7" text-anchor="middle" font-weight="normal" font-style="normal" fill="#222" transform="translate(660.6,161.5) rotate(90)">Products</text>
<text x="0.00" y="0.00" font-size="11.5" text-anchor="middle" font-weight="normal" font-style="normal" fill="#222" transform="translate(660.6,366.6) rotate(90)">Precursor</text>
<text x="0.00" y="0.00" font-size="11.8" text-anchor="middle" font-weight="normal" font-style="normal" fill="#222" transform="translate(354.6,232.3) rotate(-90)">Normalized intensity</text>
<text x="490.00" y="468.30" font-size="11.45" text-anchor="start" font-weight="normal" font-style="normal" fill="#222" >CCS<tspan font-size="7.8" dy="2.8" font-weight="normal" fill="#3c3c3c">N2</tspan><tspan dy="-2.8" font-size="1">&#8203;</tspan> (&#197;<tspan font-size="7.8" dy="-4.2" font-style="normal">2</tspan><tspan dy="4.2" font-size="1">&#8203;</tspan>)</text>
</svg>
</body></html>
